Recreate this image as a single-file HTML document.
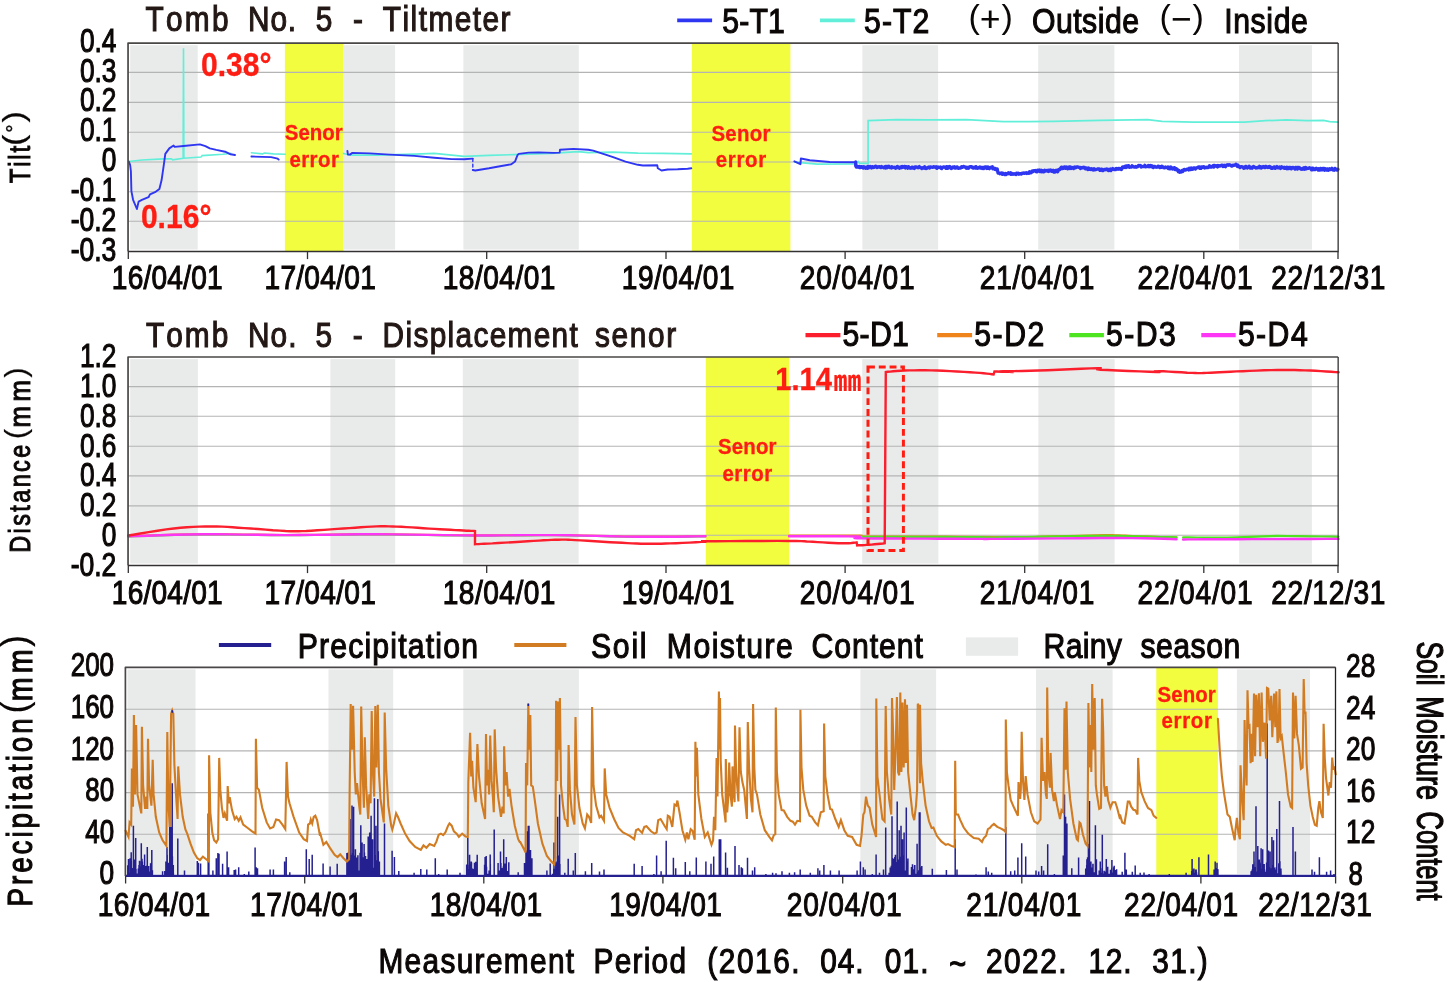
<!DOCTYPE html>
<html lang="en">
<head>
<meta charset="utf-8">
<title>Tomb No. 5 monitoring</title>
<style>
html,body{margin:0;padding:0;background:#fff;}
body{width:1450px;height:982px;overflow:hidden;}
svg{display:block;font-family:"Liberation Sans",sans-serif;}
svg text{white-space:pre;font-kerning:none;}
</style>
</head>
<body>
<svg width="1450" height="982" viewBox="0 0 1450 982">
<rect width="1450" height="982" fill="#ffffff"/>
<!-- Plot 1: Tiltmeter -->
<rect x="130.2" y="45.2" width="67.5" height="204.3" fill="#e9eaea"/>
<rect x="343.4" y="45.2" width="51.7" height="204.3" fill="#e9eaea"/>
<rect x="463.4" y="45.2" width="115.4" height="204.3" fill="#e9eaea"/>
<rect x="862.4" y="45.2" width="75.7" height="204.3" fill="#e9eaea"/>
<rect x="1038.2" y="45.2" width="76.2" height="204.3" fill="#e9eaea"/>
<rect x="1239.0" y="45.2" width="73.0" height="204.3" fill="#e9eaea"/>
<rect x="284.9" y="43.1" width="58.5" height="208.4" fill="#f1fd3e"/>
<rect x="691.8" y="43.1" width="98.6" height="208.4" fill="#f1fd3e"/>
<line x1="128.1" y1="72.4" x2="1338.2" y2="72.4" stroke="#b4b4b4" stroke-width="1.1"/>
<line x1="128.1" y1="102.4" x2="1338.2" y2="102.4" stroke="#b4b4b4" stroke-width="1.1"/>
<line x1="128.1" y1="132.3" x2="1338.2" y2="132.3" stroke="#b4b4b4" stroke-width="1.1"/>
<line x1="128.1" y1="162.0" x2="1338.2" y2="162.0" stroke="#b4b4b4" stroke-width="1.1"/>
<line x1="128.1" y1="191.7" x2="1338.2" y2="191.7" stroke="#b4b4b4" stroke-width="1.1"/>
<line x1="128.1" y1="221.3" x2="1338.2" y2="221.3" stroke="#b4b4b4" stroke-width="1.1"/>
<polyline points="128.8,161.5 141.9,160.0 163.8,158.9 171.5,158.7 172.6,159.8 183.1,158.2 183.5,48.3 183.9,158.2 201.0,157.1 202.1,155.6 222.9,154.3 230.6,153.4" fill="none" stroke="#62efd9" stroke-width="1.6" stroke-linejoin="miter" stroke-linecap="round"/>
<polyline points="251.4,152.8 262.3,153.9 264.5,153.0 273.3,153.9 285.3,154.3" fill="none" stroke="#62efd9" stroke-width="1.6" stroke-linejoin="round" stroke-linecap="round"/>
<polyline points="343.5,153.4 349.9,155.1 377.2,155.1 414.5,154.1 434.3,153.4 451.7,155.1 464.1,156.4 489.0,155.4 513.8,154.6 551.0,153.4 578.3,151.6 588.3,152.6 613.1,152.1 637.9,153.1 662.7,153.4 691.3,153.9" fill="none" stroke="#62efd9" stroke-width="1.6" stroke-linejoin="round" stroke-linecap="round"/>
<polyline points="794.9,162.1 817.2,164.1 855.7,163.8 858.2,161.6 859.4,163.3 868.1,163.3 868.1,120.6 896.7,119.6 929.0,119.9 966.2,119.6 1003.4,121.6 1028.3,121.6 1053.1,121.4 1100.0,120.3 1147.6,119.7 1162.1,121.3 1193.1,122.1 1244.8,122.1 1265.5,120.7 1286.2,119.9 1306.9,120.7 1323.5,120.3 1329.7,121.7 1337.9,122.1" fill="none" stroke="#62efd9" stroke-width="1.7" stroke-linejoin="miter" stroke-linecap="round"/>
<polyline points="128.8,161.5 130.1,164.8 130.9,171.4 131.4,191.1 133.1,199.8 136.9,209.0 138.6,201.6 141.9,199.8 148.5,197.2 150.0,194.4 155.0,192.2 159.4,188.9 161.6,180.1 163.8,164.8 165.3,153.9 169.3,148.4 173.6,145.5 174.7,146.9 183.5,146.0 199.9,144.4 205.4,146.2 209.8,148.4 216.3,149.9 225.1,151.7 230.6,154.3 235.0,155.0" fill="none" stroke="#2f36f2" stroke-width="1.9" stroke-linejoin="round" stroke-linecap="round"/>
<polyline points="251.4,156.5 271.1,157.1 277.7,158.7 278.7,159.6" fill="none" stroke="#2f36f2" stroke-width="1.9" stroke-linejoin="round" stroke-linecap="round"/>
<polyline points="347.4,150.9 347.9,154.6 349.9,154.6 352.4,152.9 369.8,153.4 389.7,154.6 414.5,155.9 434.3,157.8 451.7,159.1 464.1,159.3 472.8,158.6" fill="none" stroke="#2f36f2" stroke-width="1.9" stroke-linejoin="round" stroke-linecap="round"/>
<polyline points="472.8,158.6 472.8,170.0" fill="none" stroke="#2f36f2" stroke-width="1.4" stroke-linejoin="round" stroke-linecap="round" stroke-dasharray="3 2.5"/>
<polyline points="472.8,170.0 475.3,170.5 489.0,168.3 501.4,166.0 511.3,164.3 515.0,161.6 517.5,155.1 518.7,153.9 528.7,152.6 538.6,152.4 553.5,152.9 559.7,152.6 560.0,149.7 573.4,148.9 588.3,149.7 593.2,150.6 603.2,153.9 613.1,157.1 625.5,161.6 637.9,164.8 642.9,165.5 657.3,165.3 657.8,168.3 661.5,170.5 667.7,169.5 677.6,169.3 687.6,168.8 691.3,168.3" fill="none" stroke="#2f36f2" stroke-width="1.9" stroke-linejoin="round" stroke-linecap="round"/>
<polyline points="794.4,161.3 800.4,164.1 800.9,158.6 809.8,160.3 829.7,162.1 855.7,162.3" fill="none" stroke="#2f36f2" stroke-width="2.0" stroke-linejoin="round" stroke-linecap="round"/>
<polyline points="855.7,162.0 855.7,165.8 856.3,167.0 857.0,166.0 857.6,167.1 858.2,166.9 858.8,166.5 859.4,167.5 860.0,166.6 860.6,167.4 861.2,166.6 861.9,166.6 862.5,167.3 863.1,168.1 863.7,166.7 864.3,166.9 864.9,167.6 865.5,168.3 866.1,167.5 866.7,167.1 867.3,168.3 867.9,166.4 868.5,168.0 869.1,166.9 869.7,166.6 870.3,166.5 870.9,166.9 871.5,167.9 872.1,166.6 872.7,167.4 873.3,167.5 873.9,166.9 874.5,167.2 875.1,166.3 875.7,166.2 876.3,166.5 876.9,167.5 877.5,166.9 878.1,166.7 878.7,167.2 879.3,166.9 879.9,166.6 880.5,167.6 881.1,167.5 881.7,166.6 882.3,167.2 882.9,167.1 883.5,167.8 884.1,167.6 884.8,166.7 885.4,168.1 886.0,166.4 886.6,167.0 887.2,167.7 887.8,166.5 888.4,167.1 889.0,166.3 889.6,167.5 890.2,167.7 890.8,167.3 891.4,168.0 892.0,166.8 892.6,167.6 893.2,167.4 893.8,167.4 894.4,167.2 895.0,167.9 895.7,168.2 896.3,167.2 896.9,167.6 897.5,166.4 898.1,167.7 898.7,167.6 899.3,168.3 899.9,168.0 900.5,166.9 901.1,167.1 901.7,167.7 902.3,166.4 902.9,167.3 903.5,166.7 904.1,166.6 904.7,166.5 905.3,168.0 905.9,166.7 906.6,166.9 907.2,167.2 907.8,168.2 908.4,166.6 909.0,167.4 909.6,167.6 910.2,168.3 910.8,168.1 911.4,168.2 912.0,167.1 912.6,167.4 913.2,167.3 913.8,168.3 914.4,168.5 915.0,166.9 915.6,166.9 916.2,167.0 916.8,167.1 917.5,167.6 918.1,167.8 918.7,167.1 919.3,166.6 919.9,167.5 920.5,167.4 921.1,167.8 921.7,168.6 922.3,168.1 922.9,167.7 923.5,167.9 924.1,168.1 924.7,166.8 925.3,168.5 925.9,168.3 926.5,168.5 927.1,168.3 927.7,167.5 928.4,167.6 929.0,167.0 929.6,168.0 930.2,166.9 930.8,166.9 931.4,167.2 932.0,167.1 932.6,167.4 933.2,166.8 933.8,166.7 934.4,167.0 935.0,166.9 935.6,167.4 936.2,166.7 936.8,168.4 937.4,167.9 938.0,167.0 938.6,167.2 939.2,167.3 939.8,167.4 940.4,166.9 941.0,168.3 941.6,168.6 942.2,167.5 942.8,167.6 943.4,166.8 944.0,166.8 944.6,167.3 945.2,167.1 945.8,168.2 946.4,166.9 947.0,166.6 947.6,168.4 948.2,167.6 948.8,166.8 949.4,167.6 950.0,166.6 950.6,167.6 951.2,168.5 951.8,168.2 952.4,167.9 953.0,167.0 953.6,167.2 954.2,166.8 954.8,168.0 955.4,167.5 956.0,168.0 956.6,167.1 957.2,166.9 957.8,168.0 958.4,168.4 959.0,168.1 959.7,168.0 960.3,168.0 960.9,167.9 961.5,166.8 962.1,167.4 962.7,167.1 963.3,166.4 963.9,166.4 964.5,166.9 965.1,166.8 965.7,167.7 966.3,168.2 966.9,167.2 967.5,168.2 968.1,168.3 968.7,168.2 969.3,167.0 969.9,166.7 970.5,166.8 971.1,166.7 971.7,166.7 972.3,167.6 972.9,168.2 973.5,168.1 974.1,167.3 974.7,167.7 975.3,168.0 975.9,166.6 976.6,167.8 977.2,168.3 977.8,168.0 978.4,168.0 979.0,167.4 979.6,166.9 980.2,168.1 980.8,167.2 981.4,168.1 982.0,168.5 982.6,167.3 983.2,167.4 983.8,168.5 984.4,168.0 985.0,166.9 985.6,166.9 986.2,166.9 986.8,168.5 987.5,168.3 988.1,167.0 988.7,168.3 989.3,168.7 989.9,168.0 990.5,167.4 991.1,167.8 991.7,167.0 992.3,166.8 992.9,168.7 993.5,168.1 994.1,168.1 994.7,169.2 995.4,168.5 996.0,169.7 996.6,169.9 997.2,168.9 998.0,173.0 998.6,173.1 999.2,173.0 999.8,173.7 1000.4,173.1 1001.1,173.4 1001.7,172.9 1002.3,174.4 1002.9,173.3 1003.5,173.6 1004.1,173.8 1004.8,174.5 1005.4,173.5 1006.0,174.5 1006.6,173.7 1007.2,173.8 1007.8,173.8 1008.5,172.8 1009.1,173.7 1009.7,173.2 1010.3,172.8 1010.9,174.4 1011.5,173.2 1012.2,173.8 1012.8,174.3 1013.4,174.0 1014.0,173.6 1014.6,174.0 1015.2,174.1 1015.8,174.6 1016.5,173.1 1017.1,174.0 1017.7,173.3 1018.3,173.2 1019.0,174.2 1019.6,173.6 1020.2,173.6 1020.8,173.9 1021.4,174.1 1022.1,173.1 1022.7,173.4 1023.3,173.1 1023.9,173.0 1024.5,173.3 1025.2,172.8 1025.8,172.9 1026.4,172.7 1027.0,173.5 1027.6,173.0 1028.3,173.2 1028.9,173.3 1029.5,171.8 1030.1,172.3 1030.7,172.9 1031.4,172.6 1032.0,171.1 1032.6,171.0 1033.2,171.5 1033.8,170.7 1034.5,170.9 1035.1,170.4 1035.7,171.5 1036.3,171.6 1037.0,171.8 1037.6,170.2 1038.2,171.2 1038.8,171.1 1039.4,170.1 1040.0,171.6 1040.6,171.7 1041.2,170.3 1041.8,171.8 1042.4,170.7 1043.0,170.8 1043.6,171.9 1044.2,171.6 1044.8,170.2 1045.4,170.8 1046.0,171.0 1046.6,170.6 1047.2,170.4 1047.8,170.6 1048.4,171.5 1049.0,170.1 1049.6,171.1 1050.2,170.9 1050.8,170.1 1051.4,170.7 1052.0,171.3 1052.6,171.1 1053.2,170.3 1053.8,172.1 1054.4,171.7 1055.0,172.1 1055.6,170.4 1056.2,170.7 1056.8,170.3 1057.5,171.8 1058.1,170.8 1058.7,169.6 1059.3,169.4 1059.9,169.5 1060.5,168.4 1061.2,167.3 1061.8,167.1 1062.4,168.6 1063.0,167.9 1063.6,168.2 1064.3,167.0 1064.9,166.9 1065.5,168.2 1066.1,167.6 1066.7,166.9 1067.4,168.7 1068.0,168.0 1068.6,168.4 1069.2,166.9 1069.8,168.5 1070.5,166.9 1071.1,168.5 1071.7,167.7 1072.3,167.5 1072.9,167.9 1073.6,168.6 1074.2,167.3 1074.8,167.0 1075.4,167.8 1076.1,167.3 1076.7,167.0 1077.3,167.1 1077.9,166.9 1078.5,167.2 1079.2,167.5 1079.8,167.5 1080.4,168.5 1081.0,167.6 1081.6,168.1 1082.3,167.5 1082.9,167.9 1083.5,167.3 1084.1,167.8 1084.7,167.4 1085.4,168.9 1086.0,168.6 1086.6,167.9 1087.2,168.5 1087.8,169.5 1088.5,167.9 1089.1,169.4 1089.7,168.7 1090.3,168.8 1090.9,169.6 1091.6,168.7 1092.2,169.0 1092.8,169.4 1093.4,170.1 1094.1,168.8 1094.7,169.9 1095.3,169.7 1096.0,169.6 1096.6,169.3 1097.3,169.2 1098.0,168.8 1098.7,169.0 1099.3,169.0 1100.0,170.4 1100.6,169.4 1101.2,169.2 1101.8,169.1 1102.4,170.5 1103.0,170.6 1103.6,170.2 1104.2,169.4 1104.8,169.3 1105.4,169.4 1106.0,169.7 1106.6,169.1 1107.2,169.6 1107.8,169.2 1108.4,170.6 1109.1,170.6 1109.7,169.8 1110.3,169.1 1110.9,170.6 1111.5,169.2 1112.1,169.3 1112.7,168.6 1113.3,169.3 1113.9,169.5 1114.5,169.5 1115.1,168.9 1115.7,169.5 1116.3,168.5 1116.9,169.0 1117.5,168.6 1118.1,169.2 1118.7,168.5 1119.3,168.4 1119.9,169.0 1120.5,168.8 1121.1,169.5 1121.7,169.4 1122.3,167.1 1123.0,166.9 1123.6,167.0 1124.2,167.4 1124.8,166.4 1125.4,166.2 1126.0,167.5 1126.6,165.9 1127.2,167.0 1127.8,166.8 1128.4,165.6 1129.0,167.2 1129.6,167.3 1130.2,166.8 1130.8,167.0 1131.5,167.1 1132.1,165.8 1132.7,166.5 1133.3,166.5 1133.9,167.1 1134.5,167.1 1135.1,167.1 1135.7,166.6 1136.3,167.2 1136.9,166.8 1137.5,166.8 1138.1,165.8 1138.7,165.4 1139.3,165.6 1139.9,166.1 1140.6,165.6 1141.2,167.0 1141.8,166.4 1142.4,166.6 1143.0,166.6 1143.6,166.7 1144.2,166.3 1144.8,165.3 1145.4,166.9 1146.0,166.8 1146.6,166.3 1147.2,166.3 1147.8,166.6 1148.4,165.4 1149.1,166.7 1149.7,165.7 1150.3,165.4 1150.9,165.8 1151.5,166.8 1152.1,165.8 1152.7,166.9 1153.3,167.5 1153.9,166.6 1154.5,166.4 1155.1,166.6 1155.7,167.1 1156.3,167.3 1156.9,167.1 1157.5,167.2 1158.1,166.1 1158.7,166.3 1159.3,166.5 1160.0,167.6 1160.6,166.7 1161.2,167.3 1161.8,166.2 1162.4,166.4 1163.0,166.9 1163.6,167.7 1164.2,167.8 1164.8,167.8 1165.4,167.1 1166.0,167.6 1166.6,167.6 1167.2,167.6 1167.8,167.0 1168.4,168.6 1169.0,167.2 1169.6,168.8 1170.2,168.8 1170.9,167.0 1171.5,167.9 1172.1,168.7 1172.7,169.1 1173.3,168.1 1173.9,167.8 1174.5,167.7 1175.1,169.6 1175.8,168.5 1176.4,169.7 1177.1,169.2 1177.7,170.4 1178.4,171.7 1179.0,170.4 1179.7,172.2 1180.3,171.5 1180.9,172.1 1181.5,171.5 1182.1,170.5 1182.7,171.6 1183.3,170.7 1183.9,169.6 1184.6,169.4 1185.2,170.2 1185.8,170.0 1186.4,169.5 1187.0,169.1 1187.6,169.3 1188.2,169.1 1188.8,170.0 1189.4,168.2 1190.1,169.5 1190.7,169.6 1191.3,168.0 1191.9,169.4 1192.5,168.9 1193.1,169.1 1193.7,167.8 1194.3,167.9 1194.9,167.9 1195.5,169.0 1196.2,168.2 1196.8,167.6 1197.4,167.7 1198.0,167.3 1198.6,166.8 1199.2,166.9 1199.8,168.3 1200.4,167.1 1201.0,168.4 1201.6,166.9 1202.2,166.9 1202.8,167.3 1203.5,166.6 1204.1,166.9 1204.7,168.0 1205.3,167.8 1205.9,167.6 1206.5,167.2 1207.1,167.7 1207.7,167.7 1208.3,166.9 1208.9,167.1 1209.5,165.7 1210.1,167.0 1210.8,166.4 1211.4,167.0 1212.0,166.7 1212.6,165.9 1213.2,165.4 1213.8,167.1 1214.4,165.4 1215.0,166.1 1215.6,165.8 1216.3,165.7 1216.9,166.5 1217.5,167.0 1218.1,165.5 1218.7,166.3 1219.3,165.6 1220.0,166.0 1220.6,165.7 1221.2,165.2 1221.8,165.2 1222.4,165.2 1223.0,166.6 1223.6,165.8 1224.3,165.2 1224.9,166.5 1225.5,166.7 1226.1,165.6 1226.7,164.9 1227.3,165.0 1227.9,164.7 1228.6,165.2 1229.2,164.7 1229.8,165.0 1230.4,165.0 1231.0,165.6 1231.6,166.2 1232.3,165.9 1232.9,165.2 1233.5,165.1 1234.1,165.3 1234.7,165.0 1235.3,164.9 1235.9,164.3 1236.6,164.7 1237.3,166.5 1237.9,165.1 1238.6,166.2 1239.3,166.8 1240.0,167.6 1240.7,166.7 1241.3,166.8 1241.9,166.7 1242.5,167.0 1243.1,167.1 1243.7,168.2 1244.3,167.9 1244.9,168.0 1245.5,166.3 1246.1,166.3 1246.8,167.7 1247.4,168.0 1248.0,167.2 1248.6,167.4 1249.2,166.2 1249.8,167.0 1250.4,168.1 1251.0,167.9 1251.6,168.0 1252.2,168.2 1252.8,166.7 1253.4,166.5 1254.0,166.6 1254.6,167.3 1255.2,167.6 1255.8,168.1 1256.4,167.7 1257.1,167.5 1257.7,167.8 1258.3,167.2 1258.9,167.3 1259.5,166.3 1260.1,167.8 1260.7,166.7 1261.3,168.1 1261.9,167.5 1262.5,166.9 1263.1,166.5 1263.7,166.7 1264.3,167.5 1264.9,167.6 1265.5,166.5 1266.1,166.4 1266.7,167.3 1267.3,167.5 1267.9,167.1 1268.5,166.8 1269.1,167.5 1269.7,166.4 1270.3,167.0 1270.9,167.3 1271.5,168.3 1272.1,167.7 1272.7,168.2 1273.3,167.4 1273.9,166.9 1274.5,167.0 1275.1,168.4 1275.7,167.9 1276.3,167.2 1276.9,166.6 1277.5,167.6 1278.1,167.9 1278.7,167.5 1279.3,167.1 1279.9,168.0 1280.5,168.5 1281.1,167.1 1281.7,166.8 1282.3,167.4 1282.9,167.6 1283.5,168.1 1284.2,167.2 1284.8,168.4 1285.4,168.3 1286.0,167.8 1286.6,167.2 1287.2,168.8 1287.8,167.5 1288.4,168.5 1289.0,167.4 1289.6,167.4 1290.2,168.5 1290.8,167.5 1291.4,168.9 1292.0,168.0 1292.6,167.4 1293.2,167.5 1293.8,167.9 1294.4,168.4 1295.0,169.0 1295.6,167.4 1296.2,167.9 1296.8,167.5 1297.4,169.1 1298.0,167.4 1298.6,167.3 1299.2,167.3 1299.8,168.0 1300.4,169.0 1301.0,169.0 1301.6,168.7 1302.2,169.3 1302.8,169.1 1303.4,168.0 1304.0,167.7 1304.6,169.3 1305.2,168.9 1305.8,167.5 1306.5,168.8 1307.1,168.3 1307.7,168.3 1308.3,168.3 1308.9,168.0 1309.5,167.7 1310.1,168.3 1310.7,168.5 1311.4,169.7 1312.0,168.1 1312.6,169.8 1313.2,168.3 1313.8,168.7 1314.4,169.7 1315.0,169.7 1315.6,169.0 1316.3,168.2 1316.9,169.1 1317.5,168.9 1318.1,170.1 1318.7,168.7 1319.3,169.0 1319.9,170.1 1320.5,168.4 1321.1,169.1 1321.7,169.9 1322.3,169.8 1322.9,168.4 1323.5,168.4 1324.1,168.4 1324.7,170.2 1325.3,168.8 1325.9,169.8 1326.5,170.1 1327.1,169.0 1327.7,168.9 1328.3,170.2 1328.9,169.5 1329.5,168.8 1330.1,169.7 1330.7,168.9 1331.3,168.9 1331.9,168.3 1332.5,169.8 1333.1,170.1 1333.7,169.6 1334.3,170.2 1334.9,168.4 1335.5,168.8 1336.1,169.3 1336.7,170.2 1337.3,170.2 1337.9,169.3" fill="none" stroke="#2f36f2" stroke-width="3.3" stroke-linejoin="round" stroke-linecap="round"/>
<polyline points="128.05,251.50 128.05,43.10 1338.15,43.10" fill="none" stroke="#4b4747" stroke-width="1.7" stroke-linejoin="round"/>
<polyline points="1338.15,43.10 1338.15,251.50 128.05,251.50" fill="none" stroke="#333131" stroke-width="1.3"/>
<line x1="128.3" y1="251.5" x2="128.3" y2="259.1" stroke="#333131" stroke-width="1.3"/>
<line x1="307.5" y1="251.5" x2="307.5" y2="259.1" stroke="#333131" stroke-width="1.3"/>
<line x1="486.7" y1="251.5" x2="486.7" y2="259.1" stroke="#333131" stroke-width="1.3"/>
<line x1="666.0" y1="251.5" x2="666.0" y2="259.1" stroke="#333131" stroke-width="1.3"/>
<line x1="845.1" y1="251.5" x2="845.1" y2="259.1" stroke="#333131" stroke-width="1.3"/>
<line x1="1024.7" y1="251.5" x2="1024.7" y2="259.1" stroke="#333131" stroke-width="1.3"/>
<line x1="1203.8" y1="251.5" x2="1203.8" y2="259.1" stroke="#333131" stroke-width="1.3"/>
<line x1="1338.0" y1="251.5" x2="1338.0" y2="259.1" stroke="#333131" stroke-width="1.3"/>
<text transform="translate(79.9 51.6) scale(0.784 1)" font-size="33.5" textLength="46.6" lengthAdjust="spacing" fill="#0b0706" stroke="#0b0706" stroke-width="1.0" vector-effect="non-scaling-stroke">0.4</text>
<text transform="translate(79.9 81.5) scale(0.784 1)" font-size="33.5" textLength="46.6" lengthAdjust="spacing" fill="#0b0706" stroke="#0b0706" stroke-width="1.0" vector-effect="non-scaling-stroke">0.3</text>
<text transform="translate(79.9 111.3) scale(0.784 1)" font-size="33.5" textLength="46.6" lengthAdjust="spacing" fill="#0b0706" stroke="#0b0706" stroke-width="1.0" vector-effect="non-scaling-stroke">0.2</text>
<text transform="translate(79.9 141.2) scale(0.784 1)" font-size="33.5" textLength="46.6" lengthAdjust="spacing" fill="#0b0706" stroke="#0b0706" stroke-width="1.0" vector-effect="non-scaling-stroke">0.1</text>
<text transform="translate(101.8 171.0) scale(0.784 1)" font-size="33.5" textLength="18.6" lengthAdjust="spacing" fill="#0b0706" stroke="#0b0706" stroke-width="1.0" vector-effect="non-scaling-stroke">0</text>
<text transform="translate(70.7 200.9) scale(0.792 1)" font-size="33.5" textLength="57.7" lengthAdjust="spacing" fill="#0b0706" stroke="#0b0706" stroke-width="1.0" vector-effect="non-scaling-stroke">-0.1</text>
<text transform="translate(70.7 230.6) scale(0.792 1)" font-size="33.5" textLength="57.7" lengthAdjust="spacing" fill="#0b0706" stroke="#0b0706" stroke-width="1.0" vector-effect="non-scaling-stroke">-0.2</text>
<text transform="translate(70.7 260.5) scale(0.792 1)" font-size="33.5" textLength="57.7" lengthAdjust="spacing" fill="#0b0706" stroke="#0b0706" stroke-width="1.0" vector-effect="non-scaling-stroke">-0.3</text>
<text transform="translate(111.8 289.3) scale(0.840 1)" font-size="33.5" textLength="132.0" lengthAdjust="spacing" fill="#0b0706" stroke="#0b0706" stroke-width="1.0" vector-effect="non-scaling-stroke">16/04/01</text>
<text transform="translate(264.5 289.3) scale(0.840 1)" font-size="33.5" textLength="132.5" lengthAdjust="spacing" fill="#0b0706" stroke="#0b0706" stroke-width="1.0" vector-effect="non-scaling-stroke">17/04/01</text>
<text transform="translate(442.7 289.3) scale(0.840 1)" font-size="33.5" textLength="134.2" lengthAdjust="spacing" fill="#0b0706" stroke="#0b0706" stroke-width="1.0" vector-effect="non-scaling-stroke">18/04/01</text>
<text transform="translate(621.8 289.3) scale(0.840 1)" font-size="33.5" textLength="134.2" lengthAdjust="spacing" fill="#0b0706" stroke="#0b0706" stroke-width="1.0" vector-effect="non-scaling-stroke">19/04/01</text>
<text transform="translate(799.7 289.3) scale(0.840 1)" font-size="33.5" textLength="136.9" lengthAdjust="spacing" fill="#0b0706" stroke="#0b0706" stroke-width="1.0" vector-effect="non-scaling-stroke">20/04/01</text>
<text transform="translate(979.8 289.3) scale(0.840 1)" font-size="33.5" textLength="136.3" lengthAdjust="spacing" fill="#0b0706" stroke="#0b0706" stroke-width="1.0" vector-effect="non-scaling-stroke">21/04/01</text>
<text transform="translate(1137.6 289.3) scale(0.840 1)" font-size="33.5" textLength="137.0" lengthAdjust="spacing" fill="#0b0706" stroke="#0b0706" stroke-width="1.0" vector-effect="non-scaling-stroke">22/04/01</text>
<text transform="translate(1271.3 289.3) scale(0.840 1)" font-size="33.5" textLength="135.8" lengthAdjust="spacing" fill="#0b0706" stroke="#0b0706" stroke-width="1.0" vector-effect="non-scaling-stroke">22/12/31</text>
<text transform="translate(145.5 31.3) scale(0.840 1)" font-size="35.5" textLength="98.9" lengthAdjust="spacing" fill="#231815" stroke="#231815" stroke-width="1.06" vector-effect="non-scaling-stroke">Tomb</text>
<text transform="translate(248.0 31.3) scale(0.840 1)" font-size="35.5" textLength="57.3" lengthAdjust="spacing" fill="#231815" stroke="#231815" stroke-width="1.06" vector-effect="non-scaling-stroke">No.</text>
<text transform="translate(315.8 31.3) scale(0.840 1)" font-size="35.5" textLength="21.5" lengthAdjust="spacing" fill="#231815" stroke="#231815" stroke-width="1.06" vector-effect="non-scaling-stroke">5</text>
<text transform="translate(353.0 31.3) scale(0.840 1)" font-size="35.5" textLength="12.6" lengthAdjust="spacing" fill="#231815" stroke="#231815" stroke-width="1.06" vector-effect="non-scaling-stroke">-</text>
<text transform="translate(382.8 31.3) scale(0.840 1)" font-size="35.5" textLength="152.1" lengthAdjust="spacing" fill="#231815" stroke="#231815" stroke-width="1.06" vector-effect="non-scaling-stroke">Tiltmeter</text>
<line x1="677.2" y1="20.4" x2="712.1" y2="20.4" stroke="#2f36f2" stroke-width="3.6"/>
<text transform="translate(722.3 32.9) scale(0.840 1)" font-size="36" textLength="74.5" lengthAdjust="spacing" fill="#0b0706" stroke="#0b0706" stroke-width="1.08" vector-effect="non-scaling-stroke">5-T1</text>
<line x1="820.0" y1="20.4" x2="854.8" y2="20.4" stroke="#62efd9" stroke-width="3.6"/>
<text transform="translate(864.0 32.9) scale(0.840 1)" font-size="36" textLength="77.9" lengthAdjust="spacing" fill="#0b0706" stroke="#0b0706" stroke-width="1.08" vector-effect="non-scaling-stroke">5-T2</text>
<text transform="translate(968.6 27.8) scale(1.0 1)" font-size="34" fill="#0b0706" stroke="#0b0706" stroke-width="0">(</text>
<text transform="translate(979.9 31.4) scale(1.0 1)" font-size="35" fill="#0b0706" stroke="#0b0706" stroke-width="0.2">+</text>
<text transform="translate(1001.6 27.8) scale(1.0 1)" font-size="34" fill="#0b0706" stroke="#0b0706" stroke-width="0">)</text>
<text transform="translate(1031.9 32.9) scale(0.840 1)" font-size="36" textLength="127.5" lengthAdjust="spacing" fill="#0b0706" stroke="#0b0706" stroke-width="1.08" vector-effect="non-scaling-stroke">Outside</text>
<text transform="translate(1159.5 27.8) scale(1.0 1)" font-size="34" fill="#0b0706" stroke="#0b0706" stroke-width="0">(</text>
<text transform="translate(1170.9 31.4) scale(1.0 1)" font-size="35" fill="#0b0706" stroke="#0b0706" stroke-width="0.2">−</text>
<text transform="translate(1192.6 27.8) scale(1.0 1)" font-size="34" fill="#0b0706" stroke="#0b0706" stroke-width="0">)</text>
<text transform="translate(1224.2 32.9) scale(0.840 1)" font-size="36" textLength="99.6" lengthAdjust="spacing" fill="#0b0706" stroke="#0b0706" stroke-width="1.08" vector-effect="non-scaling-stroke">Inside</text>
<text transform="translate(29.7 183.2) rotate(-90) scale(0.800 1)" font-size="30" textLength="46.6" lengthAdjust="spacing" fill="#0b0706" stroke="#0b0706" stroke-width="0.9" vector-effect="non-scaling-stroke">Tilt</text>
<text transform="translate(24.0 146.1) rotate(-90) scale(1.150 1)" font-size="30" textLength="10.0" lengthAdjust="spacing" fill="#0b0706" stroke="#0b0706" stroke-width="0.2" vector-effect="non-scaling-stroke">(</text>
<text transform="translate(21.0 132.6) rotate(-90) scale(0.953 1)" font-size="21" textLength="8.4" lengthAdjust="spacing" fill="#0b0706" stroke="#0b0706" stroke-width="0.4" vector-effect="non-scaling-stroke">°</text>
<text transform="translate(24.0 122.4) rotate(-90) scale(1.150 1)" font-size="30" textLength="10.0" lengthAdjust="spacing" fill="#0b0706" stroke="#0b0706" stroke-width="0.2" vector-effect="non-scaling-stroke">)</text>
<text transform="translate(201.0 76.4) scale(0.912 1)" font-size="33" textLength="77.4" lengthAdjust="spacing" fill="#fd1d12" stroke="#fd1d12" stroke-width="0.3" vector-effect="non-scaling-stroke" font-weight="bold">0.38°</text>
<text transform="translate(140.9 227.6) scale(0.912 1)" font-size="33" textLength="77.4" lengthAdjust="spacing" fill="#fd1d12" stroke="#fd1d12" stroke-width="0.3" vector-effect="non-scaling-stroke" font-weight="bold">0.16°</text>
<text transform="translate(284.8 140.4) scale(0.930 1)" font-size="22" textLength="62.4" lengthAdjust="spacing" fill="#fd1d12" stroke="#fd1d12" stroke-width="0.3" vector-effect="non-scaling-stroke" font-weight="bold">Senor</text>
<text transform="translate(289.4 166.5) scale(0.930 1)" font-size="22" textLength="53.2" lengthAdjust="spacing" fill="#fd1d12" stroke="#fd1d12" stroke-width="0.3" vector-effect="non-scaling-stroke" font-weight="bold">error</text>
<text transform="translate(711.5 140.5) scale(0.930 1)" font-size="22" textLength="63.3" lengthAdjust="spacing" fill="#fd1d12" stroke="#fd1d12" stroke-width="0.3" vector-effect="non-scaling-stroke" font-weight="bold">Senor</text>
<text transform="translate(715.7 167.1) scale(0.930 1)" font-size="22" textLength="54.4" lengthAdjust="spacing" fill="#fd1d12" stroke="#fd1d12" stroke-width="0.3" vector-effect="non-scaling-stroke" font-weight="bold">error</text>
<!-- Plot 2: Displacement sensor -->
<rect x="130.2" y="359.1" width="67.7" height="204.4" fill="#e9eaea"/>
<rect x="330.4" y="359.1" width="64.8" height="204.4" fill="#e9eaea"/>
<rect x="462.8" y="359.1" width="115.8" height="204.4" fill="#e9eaea"/>
<rect x="862.2" y="359.1" width="76.2" height="204.4" fill="#e9eaea"/>
<rect x="1038.4" y="359.1" width="76.2" height="204.4" fill="#e9eaea"/>
<rect x="1239.2" y="359.1" width="72.7" height="204.4" fill="#e9eaea"/>
<rect x="705.8" y="357.0" width="83.4" height="208.5" fill="#f1fd3e"/>
<line x1="128.1" y1="386.6" x2="1338.2" y2="386.6" stroke="#b4b4b4" stroke-width="1.1"/>
<line x1="128.1" y1="416.3" x2="1338.2" y2="416.3" stroke="#b4b4b4" stroke-width="1.1"/>
<line x1="128.1" y1="446.3" x2="1338.2" y2="446.3" stroke="#b4b4b4" stroke-width="1.1"/>
<line x1="128.1" y1="475.9" x2="1338.2" y2="475.9" stroke="#b4b4b4" stroke-width="1.1"/>
<line x1="128.1" y1="505.9" x2="1338.2" y2="505.9" stroke="#b4b4b4" stroke-width="1.1"/>
<line x1="128.1" y1="535.2" x2="1338.2" y2="535.2" stroke="#b4b4b4" stroke-width="1.1"/>
<polyline points="128.3,535.9 136.3,535.7 147.3,535.3 160.3,534.8 174.6,534.4 189.0,534.1 202.8,533.9 216.0,533.8 229.4,534.0 243.1,534.2 257.0,534.4 271.1,534.6 285.5,534.7 300.1,534.6 314.9,534.5 330.0,534.2 345.3,534.0 360.8,533.9 376.5,533.9 392.9,534.0 409.8,534.2 427.0,534.5 444.0,534.7 460.4,535.0 475.9,535.1 490.1,535.1 503.4,535.0 516.2,534.9 528.7,534.7 541.4,534.7 554.5,534.7 568.2,534.9 582.3,535.2 596.5,535.5 610.6,535.9 624.2,536.2 637.2,536.3 650.2,536.4 663.6,536.3 676.5,536.2 688.3,536.1 698.2,536.0 705.5,535.9" fill="none" stroke="#ef841c" stroke-width="1.6" stroke-linejoin="round" stroke-linecap="round"/>
<polyline points="789.0,535.3 797.2,535.3 809.1,535.3 822.9,535.3 836.8,535.3 848.8,535.3 857.2,535.3 861.2,535.4 862.1,535.6 861.3,535.8 859.8,536.0 859.0,536.1 860.2,536.2 861.7,536.3 862.6,536.3 864.0,536.2 867.6,536.2 874.7,536.2 886.7,536.2 906.7,536.3 934.2,536.4 965.1,536.5 995.7,536.7 1022.0,536.8 1040.0,536.8 1048.0,536.8 1048.7,536.8 1045.1,536.8 1040.2,536.7 1036.9,536.6 1038.4,536.5 1045.2,536.3 1055.0,536.1 1066.5,535.8 1078.4,535.5 1089.1,535.2 1097.5,535.0 1103.1,534.9 1107.1,534.9 1110.0,534.9 1112.4,534.9 1115.0,535.0 1118.1,535.0 1121.8,535.2 1125.4,535.4 1129.1,535.6 1132.9,535.8 1137.1,536.0 1141.8,536.2 1147.3,536.4 1153.8,536.6 1160.7,536.7 1167.2,536.9 1172.7,537.0 1176.6,537.1" fill="none" stroke="#ef841c" stroke-width="1.6" stroke-linejoin="round" stroke-linecap="round"/>
<polyline points="128.3,536.8 136.3,536.5 147.3,536.1 160.3,535.7 174.6,535.2 189.0,534.9 202.8,534.7 216.0,534.7 229.4,534.8 243.1,535.0 257.0,535.3 271.1,535.4 285.5,535.5 300.1,535.4 314.9,535.3 330.0,535.1 345.3,534.9 360.8,534.7 376.5,534.7 392.9,534.8 409.8,535.0 427.0,535.3 444.0,535.6 460.4,535.8 475.9,535.9 490.1,535.9 503.4,535.8 516.2,535.7 528.7,535.6 541.4,535.5 554.5,535.5 568.2,535.7 582.3,536.0 596.5,536.3 610.6,536.7 624.2,537.0 637.2,537.2 650.2,537.2 663.6,537.2 676.5,537.1 688.3,536.9 698.2,536.8 705.5,536.8" fill="none" stroke="#4ee422" stroke-width="1.6" stroke-linejoin="round" stroke-linecap="round"/>
<polyline points="857.2,536.8 863.6,536.8 872.5,536.8 883.0,536.8 894.4,536.8 905.7,536.8 916.3,536.8 926.5,536.8 937.2,536.9 948.0,536.9 958.2,537.0 967.5,537.1 975.3,537.1 980.7,537.2 983.7,537.3 985.8,537.4 988.3,537.4 992.6,537.5 1000.0,537.4 1011.8,537.2 1027.0,537.0 1044.0,536.7 1061.1,536.4 1076.5,536.1 1088.6,535.9 1096.6,535.8 1101.7,535.8 1105.2,535.7 1108.3,535.8 1112.2,535.8 1118.1,535.9 1126.9,536.1 1137.6,536.4 1149.2,536.7 1160.4,537.0 1169.9,537.2 1176.6,537.4" fill="none" stroke="#4ee422" stroke-width="2.2" stroke-linejoin="round" stroke-linecap="round"/>
<polyline points="1183.1,537.4 1189.0,537.4 1197.3,537.5 1207.1,537.5 1217.5,537.5 1227.5,537.5 1236.3,537.4 1243.6,537.2 1250.2,536.9 1256.5,536.6 1262.8,536.3 1269.7,536.1 1277.6,535.9 1287.3,536.0 1298.7,536.1 1310.6,536.3 1322.0,536.5 1331.6,536.7 1338.5,536.8" fill="none" stroke="#4ee422" stroke-width="2.2" stroke-linejoin="round" stroke-linecap="round"/>
<polyline points="128.3,536.3 136.3,536.1 147.3,535.7 160.3,535.3 174.6,534.8 189.0,534.5 202.8,534.3 216.0,534.3 229.4,534.4 243.1,534.6 257.0,534.8 271.1,535.0 285.5,535.1 300.1,535.0 314.9,534.9 330.0,534.7 345.3,534.5 360.8,534.3 376.5,534.3 392.9,534.4 409.8,534.6 427.0,534.9 444.0,535.1 460.4,535.4 475.9,535.5 490.1,535.5 503.4,535.4 516.2,535.3 528.7,535.1 541.4,535.1 554.5,535.1 568.2,535.3 582.3,535.6 596.5,535.9 610.6,536.3 624.2,536.6 637.2,536.8 650.2,536.8 663.6,536.8 676.5,536.7 688.3,536.5 698.2,536.4 705.5,536.3" fill="none" stroke="#fd36f6" stroke-width="2.4" stroke-linejoin="round" stroke-linecap="round"/>
<polyline points="789.0,536.2 797.1,536.2 809.0,536.2 822.8,536.3 836.5,536.3 848.4,536.4 856.6,536.5 859.9,536.7 859.6,537.1 857.4,537.4 855.2,537.8 854.5,538.1 857.2,538.3 863.7,538.4 872.6,538.5 883.1,538.5 894.4,538.5 905.7,538.6 916.3,538.6 926.5,538.6 937.2,538.7 948.0,538.8 958.2,538.8 967.5,538.9 975.3,538.9 980.4,538.9 982.6,538.9 984.0,539.0 986.1,539.0 990.9,538.9 1000.0,538.9 1015.0,538.8 1034.7,538.6 1057.0,538.4 1079.7,538.2 1100.8,538.0 1118.1,538.0 1132.0,538.1 1144.2,538.3 1154.8,538.5 1163.7,538.8 1170.9,539.0 1176.6,539.2" fill="none" stroke="#fd36f6" stroke-width="2.4" stroke-linejoin="round" stroke-linecap="round"/>
<polyline points="1183.1,539.5 1188.3,539.4 1195.1,539.4 1203.3,539.3 1212.9,539.3 1224.0,539.2 1236.3,539.2 1251.6,539.1 1270.5,539.1 1290.7,539.0 1310.1,539.0 1326.8,538.9 1338.5,538.9" fill="none" stroke="#fd36f6" stroke-width="2.4" stroke-linejoin="round" stroke-linecap="round"/>
<polyline points="128.3,535.5 133.3,534.7 140.4,533.5 148.7,532.1 157.5,530.7 166.2,529.4 173.8,528.5 180.5,527.8 187.0,527.3 193.2,526.9 199.2,526.6 205.2,526.5 211.0,526.4 216.7,526.5 222.1,526.6 227.3,526.9 232.6,527.3 238.2,527.7 244.1,528.1 250.8,528.5 258.1,529.0 265.6,529.6 272.9,530.2 279.7,530.6 285.5,531.0 290.0,531.2 293.3,531.3 296.1,531.3 298.8,531.3 302.0,531.1 306.2,531.0 311.5,530.7 317.5,530.3 324.0,529.9 330.7,529.4 337.3,528.9 343.4,528.5 349.3,528.1 355.1,527.7 360.8,527.3 366.3,526.9 371.6,526.6 376.5,526.4 381.1,526.3 385.1,526.3 389.0,526.4 392.8,526.5 396.9,526.6 401.4,526.8 406.5,527.1 411.9,527.4 417.7,527.8 423.4,528.2 429.1,528.6 434.5,528.9 439.7,529.2 445.1,529.5 450.3,529.8 455.2,530.1 459.7,530.3 463.4,530.5 466.5,530.7 469.0,530.8 471.0,530.9 472.7,530.9 474.0,530.9 475.0,531.0 475.0,544.2 476.6,544.1 478.6,544.1 481.1,543.9 484.2,543.8 487.9,543.6 492.4,543.4 498.1,543.0 505.0,542.6 512.6,542.2 520.3,541.7 527.6,541.3 533.8,540.9 539.0,540.6 543.6,540.3 547.8,540.1 551.6,539.9 555.1,539.7 558.6,539.7 561.6,539.6 563.8,539.6 565.9,539.6 568.1,539.7 571.1,539.9 575.2,540.1 580.8,540.4 587.6,540.8 595.1,541.3 602.8,541.7 610.1,542.2 616.5,542.5 622.1,542.8 627.3,543.1 632.1,543.4 636.6,543.5 641.1,543.7 645.5,543.8 649.8,543.8 653.7,543.8 657.5,543.8 661.4,543.7 665.6,543.5 670.3,543.4 676.0,543.2 682.6,542.9 689.4,542.6 696.0,542.2 701.5,541.9 705.5,541.7 706.6,541.6 705.2,541.5 702.8,541.4 701.0,541.3 701.5,541.3 706.0,541.2 715.7,541.2 729.7,541.1 746.0,541.0 762.6,541.0 777.6,540.9 789.0,541.0 796.3,541.0 801.1,541.1 804.3,541.3 806.7,541.5 809.3,541.6 812.9,541.8 817.7,542.1 822.9,542.4 828.3,542.7 833.5,543.0 838.3,543.2 842.4,543.3 845.8,543.3 848.8,543.2 851.4,543.0 853.5,542.7 855.2,542.6 856.6,542.4 857.2,545.4 858.4,545.3 860.1,545.3 862.1,545.2 864.4,545.1 866.7,544.9 869.0,544.8 871.6,544.6 874.5,544.3 877.6,544.0 880.5,543.7 882.9,543.5 884.7,543.3 885.8,372.0 887.7,371.8 890.2,371.6 893.1,371.3 896.5,371.0 900.3,370.7 904.5,370.5 909.0,370.4 914.0,370.4 919.5,370.3 925.2,370.3 931.0,370.4 936.9,370.5 943.2,370.8 950.0,371.1 957.0,371.5 963.8,371.9 970.0,372.3 975.3,372.6 979.8,372.9 983.6,373.3 986.9,373.6 989.6,373.9 991.9,374.2 993.6,374.4 994.5,371.4 997.0,371.5 1000.7,371.6 1005.0,371.8 1009.1,371.9 1012.2,372.0 1013.7,372.0 1012.7,372.0 1009.7,371.9 1005.7,371.8 1001.9,371.7 999.7,371.6 1000.0,371.4 1003.1,371.3 1008.2,371.2 1014.6,371.1 1022.1,371.0 1030.2,370.8 1038.4,370.5 1047.7,370.2 1058.6,369.7 1070.1,369.2 1081.2,368.7 1090.6,368.4 1097.5,368.2 1100.6,368.2 1100.6,368.4 1099.1,368.6 1097.6,369.0 1097.5,369.3 1100.4,369.7 1107.3,370.0 1117.1,370.5 1128.5,371.0 1139.8,371.4 1149.6,371.8 1156.5,372.0 1159.8,372.0 1160.4,371.9 1159.5,371.6 1158.3,371.4 1157.9,371.2 1159.5,371.1 1163.4,371.3 1168.8,371.6 1175.0,372.0 1181.4,372.3 1187.2,372.7 1192.0,372.9 1195.3,373.0 1197.7,373.1 1199.5,373.1 1201.4,373.1 1203.6,373.0 1206.7,372.9 1210.7,372.7 1215.0,372.5 1219.8,372.3 1225.0,372.0 1230.5,371.7 1236.3,371.4 1242.6,371.2 1249.5,370.9 1256.8,370.6 1264.1,370.3 1271.1,370.1 1277.6,370.0 1283.6,369.9 1289.3,370.0 1294.7,370.0 1299.9,370.2 1305.0,370.4 1310.1,370.5 1315.4,370.8 1320.9,371.1 1326.3,371.5 1331.3,371.8 1335.4,372.1 1338.5,372.3" fill="none" stroke="#fb1f2e" stroke-width="2.4" stroke-linejoin="miter" stroke-linecap="round"/>
<rect x="868" y="367.1" width="35.4" height="183.4" fill="none" stroke="#fd1d12" stroke-width="3" stroke-dasharray="6.9 3.9"/>
<polyline points="128.05,565.50 128.05,357.00 1338.15,357.00" fill="none" stroke="#4b4747" stroke-width="1.7" stroke-linejoin="round"/>
<polyline points="1338.15,357.00 1338.15,565.50 128.05,565.50" fill="none" stroke="#333131" stroke-width="1.3"/>
<line x1="128.3" y1="565.5" x2="128.3" y2="573.1" stroke="#333131" stroke-width="1.3"/>
<line x1="307.5" y1="565.5" x2="307.5" y2="573.1" stroke="#333131" stroke-width="1.3"/>
<line x1="486.7" y1="565.5" x2="486.7" y2="573.1" stroke="#333131" stroke-width="1.3"/>
<line x1="666.0" y1="565.5" x2="666.0" y2="573.1" stroke="#333131" stroke-width="1.3"/>
<line x1="845.1" y1="565.5" x2="845.1" y2="573.1" stroke="#333131" stroke-width="1.3"/>
<line x1="1024.7" y1="565.5" x2="1024.7" y2="573.1" stroke="#333131" stroke-width="1.3"/>
<line x1="1203.8" y1="565.5" x2="1203.8" y2="573.1" stroke="#333131" stroke-width="1.3"/>
<line x1="1338.0" y1="565.5" x2="1338.0" y2="573.1" stroke="#333131" stroke-width="1.3"/>
<text transform="translate(79.9 367.0) scale(0.784 1)" font-size="33.5" textLength="46.6" lengthAdjust="spacing" fill="#0b0706" stroke="#0b0706" stroke-width="1.0" vector-effect="non-scaling-stroke">1.2</text>
<text transform="translate(79.9 396.9) scale(0.784 1)" font-size="33.5" textLength="46.6" lengthAdjust="spacing" fill="#0b0706" stroke="#0b0706" stroke-width="1.0" vector-effect="non-scaling-stroke">1.0</text>
<text transform="translate(79.9 426.7) scale(0.784 1)" font-size="33.5" textLength="46.6" lengthAdjust="spacing" fill="#0b0706" stroke="#0b0706" stroke-width="1.0" vector-effect="non-scaling-stroke">0.8</text>
<text transform="translate(79.9 456.5) scale(0.784 1)" font-size="33.5" textLength="46.6" lengthAdjust="spacing" fill="#0b0706" stroke="#0b0706" stroke-width="1.0" vector-effect="non-scaling-stroke">0.6</text>
<text transform="translate(79.9 486.4) scale(0.784 1)" font-size="33.5" textLength="46.6" lengthAdjust="spacing" fill="#0b0706" stroke="#0b0706" stroke-width="1.0" vector-effect="non-scaling-stroke">0.4</text>
<text transform="translate(79.9 516.2) scale(0.784 1)" font-size="33.5" textLength="46.6" lengthAdjust="spacing" fill="#0b0706" stroke="#0b0706" stroke-width="1.0" vector-effect="non-scaling-stroke">0.2</text>
<text transform="translate(101.8 546.3) scale(0.784 1)" font-size="33.5" textLength="18.6" lengthAdjust="spacing" fill="#0b0706" stroke="#0b0706" stroke-width="1.0" vector-effect="non-scaling-stroke">0</text>
<text transform="translate(70.7 576.0) scale(0.792 1)" font-size="33.5" textLength="57.7" lengthAdjust="spacing" fill="#0b0706" stroke="#0b0706" stroke-width="1.0" vector-effect="non-scaling-stroke">-0.2</text>
<text transform="translate(111.8 603.5) scale(0.840 1)" font-size="33.5" textLength="132.0" lengthAdjust="spacing" fill="#0b0706" stroke="#0b0706" stroke-width="1.0" vector-effect="non-scaling-stroke">16/04/01</text>
<text transform="translate(264.5 603.5) scale(0.840 1)" font-size="33.5" textLength="132.5" lengthAdjust="spacing" fill="#0b0706" stroke="#0b0706" stroke-width="1.0" vector-effect="non-scaling-stroke">17/04/01</text>
<text transform="translate(442.7 603.5) scale(0.840 1)" font-size="33.5" textLength="134.2" lengthAdjust="spacing" fill="#0b0706" stroke="#0b0706" stroke-width="1.0" vector-effect="non-scaling-stroke">18/04/01</text>
<text transform="translate(621.8 603.5) scale(0.840 1)" font-size="33.5" textLength="134.2" lengthAdjust="spacing" fill="#0b0706" stroke="#0b0706" stroke-width="1.0" vector-effect="non-scaling-stroke">19/04/01</text>
<text transform="translate(799.7 603.5) scale(0.840 1)" font-size="33.5" textLength="136.9" lengthAdjust="spacing" fill="#0b0706" stroke="#0b0706" stroke-width="1.0" vector-effect="non-scaling-stroke">20/04/01</text>
<text transform="translate(979.8 603.5) scale(0.840 1)" font-size="33.5" textLength="136.3" lengthAdjust="spacing" fill="#0b0706" stroke="#0b0706" stroke-width="1.0" vector-effect="non-scaling-stroke">21/04/01</text>
<text transform="translate(1137.6 603.5) scale(0.840 1)" font-size="33.5" textLength="137.0" lengthAdjust="spacing" fill="#0b0706" stroke="#0b0706" stroke-width="1.0" vector-effect="non-scaling-stroke">22/04/01</text>
<text transform="translate(1271.3 603.5) scale(0.840 1)" font-size="33.5" textLength="135.8" lengthAdjust="spacing" fill="#0b0706" stroke="#0b0706" stroke-width="1.0" vector-effect="non-scaling-stroke">22/12/31</text>
<text transform="translate(145.9 347.2) scale(0.840 1)" font-size="35.5" textLength="98.0" lengthAdjust="spacing" fill="#231815" stroke="#231815" stroke-width="1.06" vector-effect="non-scaling-stroke">Tomb</text>
<text transform="translate(248.0 347.2) scale(0.840 1)" font-size="35.5" textLength="57.7" lengthAdjust="spacing" fill="#231815" stroke="#231815" stroke-width="1.06" vector-effect="non-scaling-stroke">No.</text>
<text transform="translate(315.5 347.2) scale(0.840 1)" font-size="35.5" textLength="21.5" lengthAdjust="spacing" fill="#231815" stroke="#231815" stroke-width="1.06" vector-effect="non-scaling-stroke">5</text>
<text transform="translate(352.8 347.2) scale(0.840 1)" font-size="35.5" textLength="13.2" lengthAdjust="spacing" fill="#231815" stroke="#231815" stroke-width="1.06" vector-effect="non-scaling-stroke">-</text>
<text transform="translate(382.6 347.2) scale(0.840 1)" font-size="35.5" textLength="232.4" lengthAdjust="spacing" fill="#231815" stroke="#231815" stroke-width="1.06" vector-effect="non-scaling-stroke">Displacement</text>
<text transform="translate(594.9 347.2) scale(0.840 1)" font-size="35.5" textLength="96.9" lengthAdjust="spacing" fill="#231815" stroke="#231815" stroke-width="1.06" vector-effect="non-scaling-stroke">senor</text>
<line x1="805.5" y1="335.1" x2="840.4" y2="335.1" stroke="#fb1f2e" stroke-width="4.1"/>
<text transform="translate(842.4 346.1) scale(0.840 1)" font-size="36" textLength="79.2" lengthAdjust="spacing" fill="#0b0706" stroke="#0b0706" stroke-width="1.08" vector-effect="non-scaling-stroke">5-D1</text>
<line x1="937.2" y1="335.1" x2="972.1" y2="335.1" stroke="#ef841c" stroke-width="4.1"/>
<text transform="translate(974.3 346.1) scale(0.840 1)" font-size="36" textLength="83.3" lengthAdjust="spacing" fill="#0b0706" stroke="#0b0706" stroke-width="1.08" vector-effect="non-scaling-stroke">5-D2</text>
<line x1="1069.3" y1="335.1" x2="1103.9" y2="335.1" stroke="#4ee422" stroke-width="4.1"/>
<text transform="translate(1106.0 346.1) scale(0.840 1)" font-size="36" textLength="83.2" lengthAdjust="spacing" fill="#0b0706" stroke="#0b0706" stroke-width="1.08" vector-effect="non-scaling-stroke">5-D3</text>
<line x1="1201.3" y1="335.1" x2="1235.7" y2="335.1" stroke="#fd36f6" stroke-width="4.1"/>
<text transform="translate(1237.9 346.1) scale(0.840 1)" font-size="36" textLength="83.1" lengthAdjust="spacing" fill="#0b0706" stroke="#0b0706" stroke-width="1.08" vector-effect="non-scaling-stroke">5-D4</text>
<text transform="translate(29.7 552.8) rotate(-90) scale(0.780 1)" font-size="30" textLength="138.5" lengthAdjust="spacing" fill="#0b0706" stroke="#0b0706" stroke-width="0.9" vector-effect="non-scaling-stroke">Distance</text>
<text transform="translate(25.7 439.0) rotate(-90) scale(1.000 1)" font-size="30" textLength="10.0" lengthAdjust="spacing" fill="#0b0706" stroke="#0b0706" stroke-width="0.2" vector-effect="non-scaling-stroke">(</text>
<text transform="translate(29.7 427.4) rotate(-90) scale(0.860 1)" font-size="30" textLength="55.1" lengthAdjust="spacing" fill="#0b0706" stroke="#0b0706" stroke-width="0.9" vector-effect="non-scaling-stroke">mm</text>
<text transform="translate(25.7 377.5) rotate(-90) scale(1.000 1)" font-size="30" textLength="10.0" lengthAdjust="spacing" fill="#0b0706" stroke="#0b0706" stroke-width="0.2" vector-effect="non-scaling-stroke">)</text>
<text transform="translate(775.2 390.2) scale(0.912 1)" font-size="32" textLength="62.3" lengthAdjust="spacing" fill="#fd1d12" stroke="#fd1d12" stroke-width="0.3" vector-effect="non-scaling-stroke" font-weight="bold">1.14</text>
<text x="833.6" y="390.8" font-size="28" font-weight="bold" fill="#fd1d12" font-family="'Liberation Sans','Noto Sans CJK KR',sans-serif">㎜</text>
<text transform="translate(718.0 454.4) scale(0.930 1)" font-size="22" textLength="63.0" lengthAdjust="spacing" fill="#fd1d12" stroke="#fd1d12" stroke-width="0.3" vector-effect="non-scaling-stroke" font-weight="bold">Senor</text>
<text transform="translate(722.4 481.0) scale(0.930 1)" font-size="22" textLength="53.5" lengthAdjust="spacing" fill="#fd1d12" stroke="#fd1d12" stroke-width="0.3" vector-effect="non-scaling-stroke" font-weight="bold">error</text>
<!-- Plot 3: Precipitation / Soil moisture -->
<rect x="127.5" y="669.4" width="68.0" height="204.5" fill="#e9eaea"/>
<rect x="328.5" y="669.4" width="64.7" height="204.5" fill="#e9eaea"/>
<rect x="463.3" y="669.4" width="115.6" height="204.5" fill="#e9eaea"/>
<rect x="860.4" y="669.4" width="75.7" height="204.5" fill="#e9eaea"/>
<rect x="1036.0" y="669.4" width="76.6" height="204.5" fill="#e9eaea"/>
<rect x="1236.9" y="669.4" width="73.1" height="204.5" fill="#e9eaea"/>
<rect x="1156.3" y="667.3" width="61.6" height="208.6" fill="#f1fd3e"/>
<line x1="125.4" y1="709.2" x2="1335.5" y2="709.2" stroke="#b4b4b4" stroke-width="1.1"/>
<line x1="125.4" y1="750.9" x2="1335.5" y2="750.9" stroke="#b4b4b4" stroke-width="1.1"/>
<line x1="125.4" y1="792.6" x2="1335.5" y2="792.6" stroke="#b4b4b4" stroke-width="1.1"/>
<line x1="125.4" y1="834.2" x2="1335.5" y2="834.2" stroke="#b4b4b4" stroke-width="1.1"/>
<path d="M128.5 875.6V858.9M130.1 875.6V858.2M131.2 875.6V852.2M133.4 875.6V825.7M134.6 875.6V861.6M135.7 875.6V838.1M139.0 875.6V864.9M141.3 875.6V843.2M142.4 875.6V861.6M144.6 875.6V854.4M145.8 875.6V868.3M147.3 875.6V847.0M148.7 875.6V866.0M151.8 875.6V849.9M162.6 875.6V871.2M165.9 875.6V861.6M167.0 875.6V847.0M168.2 875.6V862.7M169.7 875.6V794.4M171.1 875.6V826.9M172.2 875.6V783.2M173.3 875.6V864.9M177.8 875.6V838.5M184.5 875.6V870.5M197.3 875.6V861.1M198.4 875.6V862.7M200.6 875.6V863.4M208.2 875.6V813.4M208.9 875.6V861.6M212.9 875.6V870.5M216.3 875.6V858.2M217.9 875.6V853.1M219.0 875.6V853.7M222.6 875.6V863.8M227.1 875.6V851.5M228.6 875.6V867.2M234.2 875.6V870.1M235.6 875.6V869.4M238.7 875.6V867.2M244.3 875.6V873.9M248.8 875.6V871.6M255.1 875.6V847.5M256.2 875.6V867.2M257.5 875.6V868.3M270.1 875.6V869.4M273.4 875.6V869.4M284.6 875.6V861.6M286.2 875.6V857.1M289.8 875.6V872.3M306.3 875.6V849.2M309.2 875.6V858.9M312.2 875.6V854.8M323.1 875.6V863.4M330.1 875.6V866.5M337.2 875.6V863.8M346.9 875.6V869.4M348.7 875.6V852.6M350.2 875.6V819.0M352.0 875.6V805.6M353.6 875.6V806.7M355.4 875.6V849.2M357.0 875.6V861.6M360.8 875.6V825.3M362.1 875.6V842.5M364.1 875.6V844.1M365.9 875.6V861.6M368.2 875.6V836.5M369.7 875.6V832.5M371.1 875.6V815.7M372.6 875.6V839.2M374.4 875.6V798.2M376.0 875.6V825.7M377.8 875.6V798.9M379.4 875.6V861.6M384.5 875.6V823.5M392.1 875.6V850.8M394.4 875.6V857.1M398.8 875.6V871.0M414.1 875.6V872.8M420.8 875.6V869.0M426.8 875.6V869.4M435.3 875.6V858.2M438.7 875.6V873.9M447.2 875.6V869.4M460.0 875.6V872.8M467.8 875.6V838.1M469.6 875.6V854.8M471.2 875.6V861.6M474.5 875.6V862.7M477.2 875.6V854.8M485.1 875.6V857.1M486.2 875.6V856.0M490.2 875.6V854.4M494.2 875.6V829.5M498.5 875.6V870.5M500.5 875.6V851.5M503.7 875.6V839.2M506.3 875.6V857.1M508.8 875.6V862.2M518.2 875.6V872.3M526.0 875.6V850.4M527.4 875.6V831.3M528.3 875.6V825.7M529.0 875.6V825.7M530.5 875.6V849.9M531.9 875.6V858.2M546.9 875.6V870.5M550.2 875.6V863.4M554.0 875.6V842.5M555.8 875.6V861.6M557.6 875.6V816.8M559.6 875.6V794.4M564.8 875.6V872.8M568.2 875.6V858.7M573.3 875.6V870.5M575.3 875.6V853.1M585.4 875.6V871.2M591.7 875.6V863.1M599.5 875.6V871.6M604.0 875.6V869.4M634.2 875.6V863.8M642.1 875.6V866.0M653.9 875.6V873.9M656.6 875.6V855.5M661.1 875.6V871.2M666.2 875.6V840.7M673.4 875.6V857.8M675.7 875.6V868.3M685.3 875.6V862.0M689.8 875.6V871.2M696.3 875.6V857.5M705.9 875.6V861.6M711.0 875.6V863.8M713.7 875.6V856.6M719.3 875.6V839.2M720.7 875.6V839.2M725.6 875.6V852.6M727.4 875.6V867.8M735.0 875.6V845.9M739.0 875.6V864.9M741.3 875.6V867.2M742.4 875.6V868.3M747.5 875.6V857.8M752.5 875.6V870.5M754.7 875.6V867.2M765.9 875.6V873.9M772.6 875.6V872.8M776.0 875.6V873.2M782.0 875.6V871.2M789.4 875.6V872.8M794.6 875.6V872.3M800.2 875.6V869.4M810.3 875.6V872.8M817.9 875.6V868.3M819.7 875.6V870.5M823.9 875.6V864.9M830.4 875.6V870.5M839.1 875.6V870.5M857.1 875.6V870.5M860.4 875.6V861.6M863.3 875.6V867.2M865.1 875.6V869.4M872.3 875.6V873.9M876.1 875.6V854.4M879.5 875.6V872.8M883.5 875.6V869.4M885.7 875.6V827.5M889.1 875.6V872.8M892.0 875.6V816.3M893.6 875.6V861.6M895.4 875.6V854.8M897.2 875.6V801.5M899.2 875.6V830.2M901.0 875.6V825.7M902.5 875.6V839.2M904.1 875.6V832.5M906.3 875.6V807.4M907.7 875.6V861.6M912.2 875.6V868.3M914.8 875.6V864.9M917.1 875.6V843.7M919.3 875.6V812.3M920.0 875.6V812.3M921.8 875.6V866.0M932.3 875.6V868.7M946.4 875.6V870.1M955.2 875.6V839.2M957.0 875.6V869.4M976.0 875.6V874.6M986.1 875.6V867.2M988.3 875.6V871.6M991.7 875.6V872.8M1005.8 875.6V826.9M1010.7 875.6V871.2M1014.7 875.6V870.5M1017.9 875.6V857.5M1021.7 875.6V843.2M1025.7 875.6V856.4M1036.0 875.6V870.5M1038.7 875.6V871.6M1041.6 875.6V866.0M1043.6 875.6V870.5M1047.7 875.6V844.3M1054.4 875.6V873.9M1064.5 875.6V794.4M1065.6 875.6V816.8M1066.9 875.6V823.5M1071.8 875.6V868.3M1078.6 875.6V857.5M1086.9 875.6V859.3M1088.4 875.6V843.7M1089.5 875.6V801.1M1090.9 875.6V861.6M1092.9 875.6V863.8M1095.4 875.6V825.3M1100.3 875.6V861.6M1102.3 875.6V834.7M1106.3 875.6V858.9M1111.9 875.6V860.0M1113.7 875.6V867.2M1116.0 875.6V870.5M1122.2 875.6V871.7M1124.9 875.6V852.7M1126.3 875.6V869.5M1132.3 875.6V871.7M1135.2 875.6V865.4M1140.2 875.6V872.8M1144.0 875.6V872.4M1149.1 875.6V874.0M1169.3 875.6V874.0M1186.1 875.6V872.8M1192.1 875.6V858.9M1193.9 875.6V868.4M1196.2 875.6V869.5M1198.9 875.6V857.2M1200.7 875.6V875.1M1208.5 875.6V854.5M1215.2 875.6V861.6M1217.0 875.6V862.8M1217.9 875.6V869.5M1252.2 875.6V869.5M1254.0 875.6V851.5M1256.0 875.6V806.3M1257.8 875.6V845.9M1259.3 875.6V859.4M1261.1 875.6V848.2M1262.7 875.6V849.3M1264.5 875.6V869.5M1267.2 875.6V723.4M1268.5 875.6V850.4M1270.1 875.6V851.5M1271.9 875.6V837.0M1273.5 875.6V840.3M1275.0 875.6V869.5M1276.8 875.6V829.1M1279.5 875.6V801.1M1280.9 875.6V868.4M1293.0 875.6V826.9M1295.4 875.6V851.5M1312.0 875.6V869.5M1314.5 875.6V871.7M1319.4 875.6V857.2M1326.6 875.6V871.7M1330.6 875.6V870.6M1334.0 875.6V874.0M127.8 875.6V865.3M129.0 875.6V872.7M130.1 875.6V866.2M131.3 875.6V861.1M132.4 875.6V868.1M133.7 875.6V859.7M134.7 875.6V859.6M136.0 875.6V869.1M136.8 875.6V873.6M138.3 875.6V868.5M139.5 875.6V860.7M140.3 875.6V866.5M141.1 875.6V861.2M142.0 875.6V858.7M143.1 875.6V865.1M144.5 875.6V866.3M145.7 875.6V866.0M146.9 875.6V865.4M147.9 875.6V873.8M149.4 875.6V871.4M150.6 875.6V863.2M151.5 875.6V862.7M152.4 875.6V870.2M164.8 875.6V871.0M165.8 875.6V873.1M167.2 875.6V854.9M168.1 875.6V872.2M169.2 875.6V873.5M170.3 875.6V856.2M171.5 875.6V869.7M172.4 875.6V856.5M173.4 875.6V873.2M346.9 875.6V853.1M347.8 875.6V852.7M348.6 875.6V869.1M349.6 875.6V863.5M350.6 875.6V854.9M351.9 875.6V853.4M353.1 875.6V853.1M354.2 875.6V855.4M355.2 875.6V873.2M356.5 875.6V857.5M357.9 875.6V855.3M358.9 875.6V870.5M360.1 875.6V852.7M361.6 875.6V855.4M362.5 875.6V868.5M363.5 875.6V857.3M364.4 875.6V852.5M365.5 875.6V856.1M366.7 875.6V859.1M367.8 875.6V872.9M368.9 875.6V863.9M370.3 875.6V854.7M371.2 875.6V871.7M372.5 875.6V856.2M373.4 875.6V867.8M374.8 875.6V855.0M376.3 875.6V871.1M377.5 875.6V860.3M378.3 875.6V851.3M466.7 875.6V864.5M468.0 875.6V864.7M469.3 875.6V868.9M470.3 875.6V863.7M471.5 875.6V862.4M472.5 875.6V868.5M473.8 875.6V869.1M474.8 875.6V872.9M475.7 875.6V861.8M476.7 875.6V867.1M484.6 875.6V864.7M485.6 875.6V869.1M486.5 875.6V866.7M487.9 875.6V873.7M489.1 875.6V870.4M490.3 875.6V864.3M498.1 875.6V862.9M499.4 875.6V870.5M500.9 875.6V862.9M502.1 875.6V868.1M503.4 875.6V866.3M504.8 875.6V863.5M506.0 875.6V870.9M507.4 875.6V870.9M508.6 875.6V871.6M524.5 875.6V863.0M525.7 875.6V872.2M527.1 875.6V864.1M528.4 875.6V871.6M529.6 875.6V867.6M530.6 875.6V866.9M531.8 875.6V858.4M552.5 875.6V873.8M553.8 875.6V868.7M554.9 875.6V868.8M556.1 875.6V863.2M557.4 875.6V856.4M558.7 875.6V855.4M559.9 875.6V864.0M890.2 875.6V867.5M891.3 875.6V865.7M892.7 875.6V858.1M893.5 875.6V859.0M894.8 875.6V856.9M895.7 875.6V871.9M896.9 875.6V862.0M898.3 875.6V859.6M899.5 875.6V856.8M900.6 875.6V869.8M902.0 875.6V871.3M903.0 875.6V865.0M904.0 875.6V855.5M905.1 875.6V870.4M906.5 875.6V867.7M907.9 875.6V858.5M911.5 875.6V867.1M912.5 875.6V864.2M913.5 875.6V869.3M914.6 875.6V865.5M916.0 875.6V873.7M917.1 875.6V862.5M917.9 875.6V872.3M918.7 875.6V870.3M919.9 875.6V865.4M920.0 875.6V861.8M920.9 875.6V867.2M921.7 875.6V871.8M1063.3 875.6V855.6M1064.2 875.6V866.0M1065.2 875.6V866.0M1066.5 875.6V869.8M1085.7 875.6V868.6M1086.7 875.6V865.1M1087.6 875.6V857.3M1088.7 875.6V869.1M1089.6 875.6V861.7M1090.6 875.6V868.8M1091.7 875.6V867.4M1093.0 875.6V863.7M1094.3 875.6V872.3M1095.2 875.6V872.8M1096.4 875.6V859.3M1099.2 875.6V870.5M1100.6 875.6V868.3M1101.7 875.6V872.8M1103.1 875.6V873.4M1104.1 875.6V870.8M1105.1 875.6V871.4M1106.4 875.6V870.7M1107.7 875.6V866.8M1109.1 875.6V873.7M1110.5 875.6V869.7M1111.8 875.6V867.8M1113.2 875.6V872.6M1114.2 875.6V865.7M1115.3 875.6V869.9M1116.6 875.6V869.3M1251.1 875.6V871.2M1251.9 875.6V871.0M1252.8 875.6V864.3M1254.1 875.6V861.4M1255.0 875.6V866.9M1256.3 875.6V871.6M1257.5 875.6V873.2M1258.6 875.6V873.2M1259.5 875.6V862.6M1260.6 875.6V863.6M1261.9 875.6V868.7M1263.0 875.6V871.7M1264.2 875.6V863.9M1265.2 875.6V871.7M1266.6 875.6V862.4M1268.0 875.6V873.5M1269.1 875.6V867.7M1270.0 875.6V867.2M1271.1 875.6V868.2M1271.9 875.6V873.5M1273.1 875.6V865.2M1274.4 875.6V867.6M1275.5 875.6V869.5M1276.3 875.6V867.2M1277.4 875.6V873.3M1278.8 875.6V863.3M1279.9 875.6V861.2M1281.0 875.6V871.3M1191.7 875.6V871.0M1192.7 875.6V869.4M1193.9 875.6V873.5M1194.8 875.6V872.7M1195.6 875.6V869.4M1196.5 875.6V872.2M1214.1 875.6V869.6M1215.3 875.6V867.9M1216.6 875.6V868.1M1217.7 875.6V868.9" stroke="#24208f" stroke-width="1.5" fill="none"/>
<line x1="125.4" y1="875.9" x2="1335.5" y2="875.9" stroke="#24208f" stroke-width="2.1"/>
<polyline points="125.6,830.7 128.5,836.9 129.6,822.4 131.2,824.6 131.9,768.6 133.0,806.7 133.9,714.9 135.0,794.4 136.1,724.9 137.5,794.4 139.7,805.6 141.3,813.4 141.9,726.7 143.1,785.4 145.1,808.9 146.4,796.6 147.3,808.9 148.0,738.8 149.1,785.4 151.4,805.6 152.7,759.7 153.6,794.4 155.8,816.8 159.2,832.5 162.6,840.3 166.4,845.9 167.3,732.1 168.4,803.3 169.7,826.9 171.1,713.8 172.2,710.4 173.3,713.8 174.4,765.3 176.0,794.4 177.6,819.0 178.2,766.4 180.0,794.4 182.7,816.8 185.4,829.5 187.2,833.6 190.5,843.7 193.9,852.6 197.3,858.2 200.0,860.0 202.9,856.6 206.2,859.3 208.9,861.6 209.1,755.2 210.3,812.3 212.3,832.5 214.1,840.3 216.3,842.5 218.1,839.2 219.2,757.9 220.3,789.9 221.9,807.8 223.5,817.9 224.8,813.4 227.1,820.8 227.7,786.1 228.8,803.3 229.7,797.1 232.0,810.1 234.7,819.0 236.5,816.8 238.7,820.8 240.5,817.4 243.2,824.6 247.7,828.0 252.1,831.3 255.5,833.6 255.9,738.8 257.1,787.7 258.9,789.9 262.2,807.8 266.7,822.4 270.1,828.4 273.4,826.9 276.1,819.5 279.0,820.1 282.4,824.6 285.3,829.1 286.0,794.4 286.6,761.9 288.0,796.6 289.5,803.3 293.6,816.8 299.2,832.5 303.7,839.2 307.0,841.0 308.1,824.6 309.9,823.5 310.8,819.5 312.2,823.5 313.7,816.8 315.3,815.7 317.1,820.1 320.0,835.8 320.0,832.5 323.4,844.8 326.3,841.9 330.1,848.1 334.6,854.8 337.5,857.1 340.2,854.4 343.5,858.2 346.9,861.6 349.1,859.3 349.6,794.4 350.7,704.1 352.0,749.6 353.1,705.9 354.7,772.0 355.8,794.4 357.0,783.2 359.2,805.6 360.3,814.5 361.2,706.6 362.6,772.0 363.9,807.8 364.8,737.3 366.1,785.4 368.2,819.0 369.3,794.4 370.6,803.3 371.7,711.1 372.9,772.0 374.2,796.6 375.3,705.9 376.4,767.5 377.8,704.8 378.9,772.0 380.5,798.9 382.7,814.5 383.8,822.4 384.7,712.6 386.1,767.5 388.3,805.6 391.2,825.7 392.3,829.5 393.9,823.5 396.1,813.4 397.9,816.8 400.6,823.5 405.1,833.6 409.6,841.0 415.2,847.0 420.8,849.9 423.5,845.4 426.4,847.7 429.7,844.1 434.2,845.9 436.5,841.4 438.7,834.7 440.9,833.6 443.2,835.1 445.4,832.5 448.1,825.7 449.5,823.5 451.7,825.7 453.9,831.3 456.6,833.6 458.9,836.9 462.2,833.6 465.6,836.5 467.8,836.9 468.3,782.1 470.1,732.8 471.2,776.5 472.1,760.8 473.4,787.7 475.7,802.2 477.4,744.0 479.0,776.5 481.7,803.3 485.1,819.0 486.0,733.9 487.1,785.4 488.0,769.7 489.1,794.4 490.2,735.5 491.6,780.9 492.9,796.6 493.8,812.3 494.7,729.4 496.0,767.5 498.1,796.6 501.0,816.8 502.5,806.7 503.7,813.4 504.1,746.2 505.4,785.4 506.6,772.0 508.1,796.6 509.5,788.8 511.5,805.6 514.8,825.7 518.2,839.2 520.0,842.5 520.0,841.4 523.4,848.1 525.6,852.6 526.0,763.0 527.2,785.4 528.3,703.7 529.4,749.6 530.3,714.9 531.2,785.4 532.8,786.5 534.6,798.9 537.9,823.5 542.4,843.7 546.9,856.0 551.4,861.6 554.3,864.3 555.4,857.1 556.1,700.8 557.2,780.9 557.8,701.4 559.0,749.6 559.9,698.1 561.0,785.4 563.0,805.6 564.8,819.0 566.4,820.1 567.7,826.9 568.6,745.1 569.9,789.9 572.0,814.5 574.4,824.6 575.5,717.1 576.9,785.4 579.4,807.8 582.7,823.5 584.9,828.4 587.2,814.5 589.0,816.8 591.2,823.0 592.1,707.0 593.5,785.4 596.1,805.6 599.5,817.4 601.1,815.7 604.0,820.8 604.7,768.4 606.2,794.4 609.6,807.8 614.1,819.0 618.5,828.0 623.0,832.5 629.7,835.8 634.2,839.2 636.0,830.2 638.3,829.1 642.1,832.9 644.3,826.9 646.5,826.2 651.0,831.3 654.4,833.6 656.6,832.5 658.2,820.1 660.6,819.0 664.5,825.7 666.7,829.1 667.8,815.7 669.6,816.8 672.3,826.9 674.5,804.5 676.3,805.6 677.4,800.6 679.5,812.3 682.4,830.2 685.3,839.8 686.9,832.5 688.4,839.2 690.7,829.1 692.5,830.7 694.7,839.8 695.4,741.7 696.3,776.5 696.9,747.8 698.3,794.4 701.4,819.0 704.8,836.9 707.7,832.5 710.4,841.4 711.5,844.8 713.1,840.3 714.0,816.8 715.3,830.2 716.6,758.1 717.5,796.6 718.9,691.4 720.0,749.6 720.0,698.1 720.7,760.8 722.2,794.4 725.6,822.4 725.8,759.0 727.2,812.3 728.5,794.4 729.2,762.6 730.5,794.4 731.9,806.7 732.5,766.4 733.9,794.4 734.6,802.2 735.0,725.4 736.1,772.0 738.4,801.5 739.5,727.2 740.8,772.0 742.4,782.1 744.2,789.9 746.9,819.0 747.8,722.0 749.1,767.5 750.9,798.9 752.5,812.3 753.1,704.1 754.3,767.5 755.4,789.9 757.0,794.4 760.3,814.5 764.8,830.2 769.3,836.9 772.0,840.3 773.8,835.1 775.3,834.2 775.8,707.5 776.9,772.0 778.7,794.4 781.6,810.1 783.8,810.5 787.2,816.8 790.5,820.8 792.8,821.7 795.0,824.6 797.3,820.8 800.0,821.3 800.4,709.7 801.5,767.5 803.3,789.9 806.2,805.6 809.6,815.7 811.8,816.8 815.2,822.4 817.9,825.3 820.8,812.3 823.7,811.2 824.1,723.4 825.3,776.5 827.5,794.4 830.2,808.9 832.0,809.6 835.3,819.0 838.7,826.9 840.9,820.1 844.3,830.2 847.7,835.8 852.1,836.9 856.6,844.8 860.0,845.9 861.5,835.8 863.3,814.5 864.5,812.3 866.0,796.6 867.8,805.6 869.6,807.8 872.3,824.6 876.1,836.9 876.3,698.5 877.4,776.5 879.5,794.4 882.4,819.0 884.6,821.3 885.7,705.9 886.9,772.0 889.1,798.9 891.3,814.5 892.0,698.1 893.1,731.7 894.2,789.9 895.8,742.9 896.9,697.0 898.1,772.0 899.2,775.3 900.3,692.5 901.4,772.0 902.5,702.6 903.7,767.5 905.0,699.2 905.9,763.0 907.0,704.8 908.1,772.0 910.4,794.4 912.6,814.5 914.2,820.1 916.0,805.6 917.1,789.9 917.8,703.7 918.9,705.9 920.0,783.2 920.0,704.8 921.1,763.0 922.7,780.9 925.6,805.6 929.0,821.3 931.6,828.0 933.4,827.5 936.8,835.8 941.3,841.4 945.8,844.8 948.0,844.1 951.4,845.9 954.7,847.0 955.2,760.8 955.8,814.5 958.1,814.5 960.3,820.1 963.7,827.5 968.2,833.6 973.8,838.1 978.7,838.7 982.0,841.9 983.8,838.1 986.1,835.8 987.9,829.1 989.9,828.0 991.7,825.7 993.9,823.9 997.3,826.9 1000.6,828.4 1004.0,830.2 1005.6,832.0 1005.8,719.4 1006.9,772.0 1008.5,785.4 1010.7,800.0 1014.1,807.8 1017.9,815.7 1018.5,782.1 1020.1,798.9 1020.8,789.9 1021.7,731.7 1023.0,780.9 1024.4,800.0 1025.7,776.0 1027.5,794.4 1030.9,812.3 1034.2,821.3 1037.6,823.5 1040.5,819.5 1041.6,737.7 1043.0,780.9 1044.5,772.0 1045.9,794.4 1046.8,798.9 1047.2,687.5 1048.3,772.0 1049.9,787.7 1050.6,752.9 1052.1,789.9 1053.9,801.1 1054.8,792.1 1057.1,805.6 1060.0,819.0 1061.5,810.1 1063.3,812.3 1064.5,708.2 1065.6,769.7 1066.5,701.4 1067.8,772.0 1070.1,798.9 1073.4,823.5 1076.8,839.2 1077.9,840.3 1079.5,822.4 1080.6,823.5 1083.0,834.7 1085.7,843.7 1087.5,845.9 1088.4,703.0 1089.5,767.5 1090.2,724.9 1091.3,772.0 1092.2,684.0 1093.3,749.6 1094.7,698.1 1095.8,785.4 1096.9,794.4 1099.2,808.9 1101.0,807.8 1102.1,698.7 1103.2,731.7 1104.1,785.4 1105.4,796.6 1106.6,786.1 1108.1,800.0 1110.4,807.8 1112.6,802.2 1115.3,802.2 1117.1,807.8 1120.0,819.0 1120.0,814.6 1122.2,822.4 1124.5,823.5 1126.3,812.3 1127.8,801.6 1129.4,801.6 1131.2,806.7 1133.4,809.7 1135.2,810.1 1137.5,814.6 1138.1,757.9 1139.3,781.0 1141.3,792.2 1144.6,801.1 1148.0,807.9 1151.4,810.1 1153.6,815.7 1156.3,817.9" fill="none" stroke="#d17c22" stroke-width="2.1" stroke-linejoin="miter" stroke-linecap="round"/>
<polyline points="1217.9,718.7 1219.7,749.6 1221.9,776.5 1224.2,794.4 1227.5,814.6 1229.8,816.8 1232.0,828.0 1234.7,840.3 1235.4,830.3 1236.9,817.9 1238.3,832.5 1239.9,839.2 1240.5,765.3 1242.1,798.9 1243.7,820.2 1244.6,720.0 1245.5,760.8 1246.6,785.5 1247.5,690.2 1248.6,727.2 1249.5,726.1 1250.6,763.1 1251.7,733.9 1252.6,761.9 1254.0,693.6 1255.1,756.3 1256.2,694.7 1257.6,727.2 1258.9,693.2 1260.2,756.3 1261.6,692.5 1262.9,741.8 1264.5,722.7 1266.1,758.6 1267.0,688.0 1268.3,688.7 1269.7,720.5 1271.2,695.8 1272.3,737.3 1274.1,693.6 1275.3,727.2 1276.4,691.4 1277.5,742.9 1278.6,736.2 1279.5,689.1 1280.6,738.4 1281.8,736.2 1283.5,751.9 1285.8,772.0 1288.0,794.4 1290.7,806.7 1292.1,807.9 1293.0,692.5 1294.3,738.4 1295.6,695.8 1297.0,733.9 1298.8,745.1 1301.0,768.7 1302.6,767.5 1303.7,679.0 1304.6,713.8 1305.5,711.5 1306.6,763.1 1308.2,785.5 1310.4,805.6 1312.7,816.8 1314.9,824.7 1316.7,825.8 1318.3,807.9 1319.4,801.1 1321.0,812.3 1322.8,817.9 1323.6,723.8 1324.8,758.6 1326.1,778.7 1328.4,795.5 1329.7,782.1 1331.0,787.7 1332.2,757.5 1333.3,769.8 1334.4,766.4 1335.7,774.3" fill="none" stroke="#d17c22" stroke-width="2.1" stroke-linejoin="miter" stroke-linecap="round"/>
<line x1="172.2" y1="710.2" x2="172.2" y2="712.7" stroke="#24208f" stroke-width="1.6"/>
<line x1="528.3" y1="703.5" x2="528.3" y2="706.0" stroke="#24208f" stroke-width="1.6"/>
<polyline points="125.40,875.90 125.40,667.30 1335.55,667.30" fill="none" stroke="#4b4747" stroke-width="1.7" stroke-linejoin="round"/>
<line x1="1335.5" y1="667.3" x2="1335.5" y2="875.9" stroke="#222" stroke-width="1.3"/>
<line x1="125.6" y1="875.9" x2="125.6" y2="883.5" stroke="#333131" stroke-width="1.3"/>
<line x1="304.7" y1="875.9" x2="304.7" y2="883.5" stroke="#333131" stroke-width="1.3"/>
<line x1="483.8" y1="875.9" x2="483.8" y2="883.5" stroke="#333131" stroke-width="1.3"/>
<line x1="662.9" y1="875.9" x2="662.9" y2="883.5" stroke="#333131" stroke-width="1.3"/>
<line x1="842.7" y1="875.9" x2="842.7" y2="883.5" stroke="#333131" stroke-width="1.3"/>
<line x1="1021.8" y1="875.9" x2="1021.8" y2="883.5" stroke="#333131" stroke-width="1.3"/>
<line x1="1200.9" y1="875.9" x2="1200.9" y2="883.5" stroke="#333131" stroke-width="1.3"/>
<line x1="1335.6" y1="875.9" x2="1335.6" y2="883.5" stroke="#333131" stroke-width="1.3"/>
<text transform="translate(70.7 676.0) scale(0.776 1)" font-size="33.5" textLength="55.9" lengthAdjust="spacing" fill="#0b0706" stroke="#0b0706" stroke-width="1.0" vector-effect="non-scaling-stroke">200</text>
<text transform="translate(70.7 717.8) scale(0.776 1)" font-size="33.5" textLength="55.9" lengthAdjust="spacing" fill="#0b0706" stroke="#0b0706" stroke-width="1.0" vector-effect="non-scaling-stroke">160</text>
<text transform="translate(70.7 759.5) scale(0.776 1)" font-size="33.5" textLength="55.9" lengthAdjust="spacing" fill="#0b0706" stroke="#0b0706" stroke-width="1.0" vector-effect="non-scaling-stroke">120</text>
<text transform="translate(85.3 801.2) scale(0.773 1)" font-size="33.5" textLength="37.3" lengthAdjust="spacing" fill="#0b0706" stroke="#0b0706" stroke-width="1.0" vector-effect="non-scaling-stroke">80</text>
<text transform="translate(85.3 842.9) scale(0.773 1)" font-size="33.5" textLength="37.3" lengthAdjust="spacing" fill="#0b0706" stroke="#0b0706" stroke-width="1.0" vector-effect="non-scaling-stroke">40</text>
<text transform="translate(99.5 884.4) scale(0.784 1)" font-size="33.5" textLength="18.6" lengthAdjust="spacing" fill="#0b0706" stroke="#0b0706" stroke-width="1.0" vector-effect="non-scaling-stroke">0</text>
<text transform="translate(1346.1 676.7) scale(0.786 1)" font-size="33.5" textLength="37.3" lengthAdjust="spacing" fill="#0b0706" stroke="#0b0706" stroke-width="1.0" vector-effect="non-scaling-stroke">28</text>
<text transform="translate(1346.1 718.5) scale(0.786 1)" font-size="33.5" textLength="37.3" lengthAdjust="spacing" fill="#0b0706" stroke="#0b0706" stroke-width="1.0" vector-effect="non-scaling-stroke">24</text>
<text transform="translate(1346.1 760.2) scale(0.786 1)" font-size="33.5" textLength="37.3" lengthAdjust="spacing" fill="#0b0706" stroke="#0b0706" stroke-width="1.0" vector-effect="non-scaling-stroke">20</text>
<text transform="translate(1346.1 801.9) scale(0.786 1)" font-size="33.5" textLength="37.3" lengthAdjust="spacing" fill="#0b0706" stroke="#0b0706" stroke-width="1.0" vector-effect="non-scaling-stroke">16</text>
<text transform="translate(1346.1 843.4) scale(0.786 1)" font-size="33.5" textLength="37.3" lengthAdjust="spacing" fill="#0b0706" stroke="#0b0706" stroke-width="1.0" vector-effect="non-scaling-stroke">12</text>
<text transform="translate(1348.4 885.1) scale(0.768 1)" font-size="33.5" textLength="18.6" lengthAdjust="spacing" fill="#0b0706" stroke="#0b0706" stroke-width="1.0" vector-effect="non-scaling-stroke">8</text>
<text transform="translate(97.8 916.4) scale(0.840 1)" font-size="33.5" textLength="133.7" lengthAdjust="spacing" fill="#0b0706" stroke="#0b0706" stroke-width="1.0" vector-effect="non-scaling-stroke">16/04/01</text>
<text transform="translate(250.1 916.4) scale(0.840 1)" font-size="33.5" textLength="134.0" lengthAdjust="spacing" fill="#0b0706" stroke="#0b0706" stroke-width="1.0" vector-effect="non-scaling-stroke">17/04/01</text>
<text transform="translate(429.7 916.4) scale(0.840 1)" font-size="33.5" textLength="134.0" lengthAdjust="spacing" fill="#0b0706" stroke="#0b0706" stroke-width="1.0" vector-effect="non-scaling-stroke">18/04/01</text>
<text transform="translate(609.3 916.4) scale(0.840 1)" font-size="33.5" textLength="134.0" lengthAdjust="spacing" fill="#0b0706" stroke="#0b0706" stroke-width="1.0" vector-effect="non-scaling-stroke">19/04/01</text>
<text transform="translate(786.7 916.4) scale(0.840 1)" font-size="33.5" textLength="136.9" lengthAdjust="spacing" fill="#0b0706" stroke="#0b0706" stroke-width="1.0" vector-effect="non-scaling-stroke">20/04/01</text>
<text transform="translate(966.2 916.4) scale(0.840 1)" font-size="33.5" textLength="137.0" lengthAdjust="spacing" fill="#0b0706" stroke="#0b0706" stroke-width="1.0" vector-effect="non-scaling-stroke">21/04/01</text>
<text transform="translate(1124.1 916.4) scale(0.840 1)" font-size="33.5" textLength="135.8" lengthAdjust="spacing" fill="#0b0706" stroke="#0b0706" stroke-width="1.0" vector-effect="non-scaling-stroke">22/04/01</text>
<text transform="translate(1258.3 916.4) scale(0.840 1)" font-size="33.5" textLength="135.2" lengthAdjust="spacing" fill="#0b0706" stroke="#0b0706" stroke-width="1.0" vector-effect="non-scaling-stroke">22/12/31</text>
<line x1="218.9" y1="645.1" x2="271.2" y2="645.1" stroke="#24208f" stroke-width="4.0"/>
<text transform="translate(297.7 658.4) scale(0.840 1)" font-size="36" textLength="214.6" lengthAdjust="spacing" fill="#0b0706" stroke="#0b0706" stroke-width="1.08" vector-effect="non-scaling-stroke">Precipitation</text>
<line x1="514.3" y1="645.1" x2="566.4" y2="645.1" stroke="#d17c22" stroke-width="4.0"/>
<text transform="translate(591.0 658.4) scale(0.840 1)" font-size="36" textLength="66.1" lengthAdjust="spacing" fill="#0b0706" stroke="#0b0706" stroke-width="1.08" vector-effect="non-scaling-stroke">Soil</text>
<text transform="translate(666.8 658.4) scale(0.840 1)" font-size="36" textLength="149.9" lengthAdjust="spacing" fill="#0b0706" stroke="#0b0706" stroke-width="1.08" vector-effect="non-scaling-stroke">Moisture</text>
<text transform="translate(811.6 658.4) scale(0.840 1)" font-size="36" textLength="132.4" lengthAdjust="spacing" fill="#0b0706" stroke="#0b0706" stroke-width="1.08" vector-effect="non-scaling-stroke">Content</text>
<rect x="965.9" y="637.4" width="52.2" height="18.4" fill="#e9eaea"/>
<text transform="translate(1043.6 658.4) scale(0.840 1)" font-size="36" textLength="93.3" lengthAdjust="spacing" fill="#0b0706" stroke="#0b0706" stroke-width="1.08" vector-effect="non-scaling-stroke">Rainy</text>
<text transform="translate(1140.5 658.4) scale(0.840 1)" font-size="36" textLength="118.8" lengthAdjust="spacing" fill="#0b0706" stroke="#0b0706" stroke-width="1.08" vector-effect="non-scaling-stroke">season</text>
<text transform="translate(31.7 906.4) rotate(-90) scale(0.770 1)" font-size="36" textLength="244.2" lengthAdjust="spacing" fill="#0b0706" stroke="#0b0706" stroke-width="1.08" vector-effect="non-scaling-stroke">Precipitation</text>
<text transform="translate(26.6 713.6) rotate(-90) scale(1.000 1)" font-size="36" textLength="12.0" lengthAdjust="spacing" fill="#0b0706" stroke="#0b0706" stroke-width="0.2" vector-effect="non-scaling-stroke">(</text>
<text transform="translate(31.7 701.2) rotate(-90) scale(0.800 1)" font-size="36" textLength="65.0" lengthAdjust="spacing" fill="#0b0706" stroke="#0b0706" stroke-width="1.08" vector-effect="non-scaling-stroke">mm</text>
<text transform="translate(26.6 647.1) rotate(-90) scale(1.000 1)" font-size="36" textLength="12.0" lengthAdjust="spacing" fill="#0b0706" stroke="#0b0706" stroke-width="0.2" vector-effect="non-scaling-stroke">)</text>
<text transform="translate(1417.0 641.4) rotate(90) scale(0.726 1)" font-size="36.5" textLength="60.9" lengthAdjust="spacing" fill="#0b0706" stroke="#0b0706" stroke-width="1.09" vector-effect="non-scaling-stroke">Soil</text>
<text transform="translate(1417.0 696.3) rotate(90) scale(0.741 1)" font-size="36.5" textLength="140.0" lengthAdjust="spacing" fill="#0b0706" stroke="#0b0706" stroke-width="1.09" vector-effect="non-scaling-stroke">Moisture</text>
<text transform="translate(1417.0 811.6) rotate(90) scale(0.697 1)" font-size="36.5" textLength="127.8" lengthAdjust="spacing" fill="#0b0706" stroke="#0b0706" stroke-width="1.09" vector-effect="non-scaling-stroke">Content</text>
<text transform="translate(1157.5 701.8) scale(0.930 1)" font-size="22" textLength="62.7" lengthAdjust="spacing" fill="#fd1d12" stroke="#fd1d12" stroke-width="0.3" vector-effect="non-scaling-stroke" font-weight="bold">Senor</text>
<text transform="translate(1161.6 728.0) scale(0.930 1)" font-size="22" textLength="54.2" lengthAdjust="spacing" fill="#fd1d12" stroke="#fd1d12" stroke-width="0.3" vector-effect="non-scaling-stroke" font-weight="bold">error</text>
<text transform="translate(378.4 972.6) scale(0.840 1)" font-size="35.5" textLength="233.0" lengthAdjust="spacing" fill="#0b0706" stroke="#0b0706" stroke-width="1.06" vector-effect="non-scaling-stroke">Measurement</text>
<text transform="translate(593.6 972.6) scale(0.840 1)" font-size="35.5" textLength="110.0" lengthAdjust="spacing" fill="#0b0706" stroke="#0b0706" stroke-width="1.06" vector-effect="non-scaling-stroke">Period</text>
<text transform="translate(707.3 972.6) scale(0.840 1)" font-size="35.5" textLength="109.9" lengthAdjust="spacing" fill="#0b0706" stroke="#0b0706" stroke-width="1.06" vector-effect="non-scaling-stroke">(2016.</text>
<text transform="translate(820.3 972.6) scale(0.840 1)" font-size="35.5" textLength="51.5" lengthAdjust="spacing" fill="#0b0706" stroke="#0b0706" stroke-width="1.06" vector-effect="non-scaling-stroke">04.</text>
<text transform="translate(884.8 972.6) scale(0.840 1)" font-size="35.5" textLength="52.1" lengthAdjust="spacing" fill="#0b0706" stroke="#0b0706" stroke-width="1.06" vector-effect="non-scaling-stroke">01.</text>
<text transform="translate(949.3 976.4) scale(0.815 1)" font-size="35.5" textLength="20.7" lengthAdjust="spacing" fill="#0b0706" stroke="#0b0706" stroke-width="1.06" vector-effect="non-scaling-stroke">~</text>
<text transform="translate(985.9 972.6) scale(0.840 1)" font-size="35.5" textLength="96.1" lengthAdjust="spacing" fill="#0b0706" stroke="#0b0706" stroke-width="1.06" vector-effect="non-scaling-stroke">2022.</text>
<text transform="translate(1088.4 972.6) scale(0.840 1)" font-size="35.5" textLength="51.4" lengthAdjust="spacing" fill="#0b0706" stroke="#0b0706" stroke-width="1.06" vector-effect="non-scaling-stroke">12.</text>
<text transform="translate(1152.2 972.6) scale(0.840 1)" font-size="35.5" textLength="66.2" lengthAdjust="spacing" fill="#0b0706" stroke="#0b0706" stroke-width="1.06" vector-effect="non-scaling-stroke">31.)</text>
</svg>
</body>
</html>
